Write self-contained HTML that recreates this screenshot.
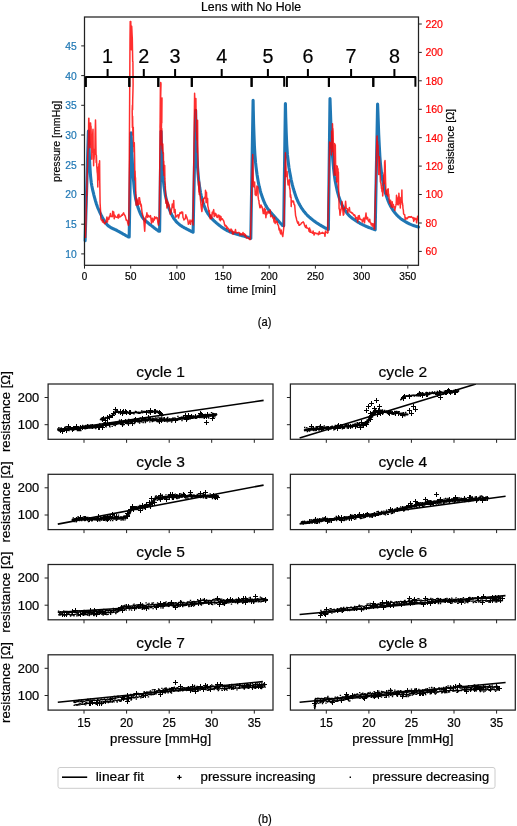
<!DOCTYPE html>
<html><head><meta charset="utf-8"><style>
html,body{margin:0;padding:0;background:#fff;width:517px;height:826px;overflow:hidden;}
svg{display:block;will-change:transform;font-family:"Liberation Sans", sans-serif;}
</style></head><body>
<svg width="517" height="826" viewBox="0 0 517 826" font-family='"Liberation Sans", sans-serif'><rect x="84.5" y="17.0" width="334.0" height="248.3" fill="none" stroke="#222" stroke-width="1.25"/>
<path d="M85.1 240.6 L88.4 131.1 L88.7 139.6 L89.2 151.9 L89.8 164.9 L90.5 175.5 L90.9 179.4 L91.3 182.7 L91.8 185.7 L92.3 188.3 L92.8 190.7 L93.4 192.9 L93.9 195.1 L94.5 197.3 L95 199.1 L95.4 200.7 L95.9 202.2 L96.3 203.7 L96.8 205.1 L97.3 206.5 L97.8 207.8 L98.4 209.1 L99 210.4 L99.6 211.8 L100 212.7 L100.5 213.7 L100.9 214.6 L101.4 215.6 L101.9 216.5 L102.4 217.5 L102.9 218.4 L103.4 219.3 L103.9 220.2 L104.5 221.1 L105 222 L105.6 222.8 L106.1 223.5 L106.7 224.2 L107.3 224.9 L107.8 225.4 L108.2 225.8 L108.7 226.2 L109.2 226.5 L109.7 226.9 L110.2 227.2 L110.7 227.5 L111.2 227.8 L111.7 228 L112.2 228.3 L112.7 228.5 L113.2 228.8 L113.8 229 L114.3 229.2 L114.8 229.5 L115.4 229.7 L115.9 230 L116.4 230.2 L117 230.5 L117.5 230.8 L118 231.1 L118.6 231.4 L119.1 231.7 L119.7 232 L120.3 232.4 L120.9 232.7 L121.5 233 L122.1 233.4 L122.7 233.7 L123.3 234.1 L123.9 234.4 L124.5 234.7 L125 235 L125.5 235.3 L126.1 235.6 L126.5 235.9 L127 236.1 L127.4 236.3 L127.8 236.6 L128.1 236.7 L128.4 236.9 L129.2 236.9 L131 132.8 L131.5 143.8 L132.1 157.2 L132.6 167.1 L133.2 176.1 L133.7 182.2 L134.2 188.1 L134.8 193.5 L135.3 196.4 L135.7 199 L136.3 201.4 L136.9 203.8 L137.6 206.1 L138 207.4 L138.5 208.7 L139 210.1 L139.5 211.4 L140 212.6 L140.5 213.8 L141.1 215 L141.7 216.1 L142.3 217.1 L142.8 217.8 L143.2 218.4 L143.7 219 L144.1 219.5 L144.6 220 L145.1 220.4 L145.6 220.9 L146.1 221.4 L146.7 221.8 L147.3 222.3 L147.9 222.8 L148.6 223.4 L149 223.8 L149.5 224.2 L150 224.6 L150.6 225 L151.1 225.4 L151.7 225.9 L152.3 226.4 L152.9 226.8 L153.5 227.3 L154.1 227.7 L154.7 228.2 L155.3 228.6 L155.9 229.1 L156.4 229.5 L157 229.8 L157.4 230.2 L157.9 230.5 L158.3 230.8 L158.6 231.1 L158.9 231.3 L159.6 231.3 L161.1 131.3 L161.4 143.1 L161.9 157.2 L162.4 167.2 L163 176.1 L163.4 180.7 L163.9 185.2 L164.5 189.5 L165.1 193.5 L165.5 195.9 L166 198.1 L166.5 200.2 L167 202.2 L167.6 204.1 L168.2 206.1 L168.6 207.4 L169.1 208.7 L169.6 210 L170.1 211.3 L170.6 212.5 L171.2 213.7 L171.8 214.9 L172.4 216 L173 217.1 L173.4 217.8 L173.8 218.4 L174.3 219 L174.7 219.6 L175.1 220.2 L175.6 220.7 L176 221.3 L176.5 221.8 L177 222.4 L177.5 222.9 L178.1 223.4 L178.7 223.9 L179.3 224.5 L180 225 L180.4 225.3 L180.9 225.6 L181.3 225.9 L181.8 226.2 L182.4 226.6 L182.9 226.9 L183.5 227.2 L184.1 227.6 L184.6 227.9 L185.2 228.2 L185.8 228.5 L186.4 228.8 L187 229.1 L187.6 229.5 L188.2 229.7 L188.8 230 L189.3 230.3 L189.8 230.6 L190.3 230.8 L190.8 231.1 L191.2 231.3 L191.6 231.5 L192 231.7 L192.3 231.8 L192.6 232 L193.1 232.2 L195.6 110.2 L195.9 124.7 L196.4 142.4 L196.9 156.1 L197.6 167.8 L198.1 174.2 L198.6 179.6 L199.3 184.7 L199.7 187.6 L200.2 190.4 L200.6 193 L201.2 195.6 L201.9 198.3 L202.3 199.7 L202.7 201.1 L203.1 202.5 L203.6 203.9 L204 205.3 L204.5 206.7 L205.1 208.1 L205.6 209.4 L206.2 210.7 L206.9 211.9 L207.3 212.6 L207.7 213.3 L208.1 213.9 L208.6 214.5 L209 215.1 L209.4 215.8 L209.9 216.3 L210.4 216.9 L210.9 217.5 L211.4 218.1 L211.9 218.6 L212.4 219.2 L213 219.7 L213.5 220.3 L214.1 220.9 L214.8 221.4 L215.4 222 L215.8 222.4 L216.2 222.7 L216.6 223.1 L217.1 223.5 L217.5 223.8 L217.9 224.2 L218.4 224.6 L218.8 224.9 L219.3 225.3 L219.7 225.7 L220.2 226 L220.7 226.4 L221.2 226.8 L221.7 227.1 L222.2 227.5 L222.7 227.8 L223.2 228.2 L223.7 228.5 L224.3 228.9 L224.8 229.2 L225.4 229.5 L226 229.9 L226.5 230.2 L227.1 230.5 L227.7 230.8 L228.4 231.1 L229 231.4 L229.4 231.6 L229.9 231.8 L230.3 232 L230.8 232.2 L231.3 232.3 L231.8 232.5 L232.3 232.7 L232.8 232.9 L233.4 233.1 L233.9 233.3 L234.5 233.5 L235.1 233.6 L235.6 233.8 L236.2 234 L236.8 234.2 L237.4 234.3 L238 234.5 L238.6 234.7 L239.2 234.9 L239.8 235 L240.3 235.2 L240.9 235.3 L241.5 235.5 L242.1 235.7 L242.6 235.8 L243.2 236 L243.7 236.1 L244.3 236.3 L244.8 236.4 L245.3 236.5 L245.8 236.7 L246.3 236.8 L246.8 236.9 L247.2 237 L247.6 237.1 L248 237.2 L248.4 237.4 L248.8 237.5 L249.1 237.5 L249.4 237.6 L249.7 237.7 L250 237.8 L250.8 238.4 L253.1 100.2 L253.3 110.7 L253.6 123.9 L254 135.3 L254.4 145.9 L254.9 154.6 L255.6 162.9 L256 166.6 L256.5 170.5 L257 174.3 L257.6 178.1 L258.2 181.5 L258.7 184.1 L259.2 186.5 L259.8 188.7 L260.3 190.9 L260.9 193 L261.6 195.1 L262 196.4 L262.5 197.6 L262.9 198.9 L263.4 200.1 L263.9 201.3 L264.4 202.5 L264.9 203.7 L265.5 204.8 L266 205.9 L266.6 206.9 L267.1 207.7 L267.5 208.4 L268 209.1 L268.5 209.7 L269 210.3 L269.5 210.9 L270 211.6 L270.5 212.2 L271.1 212.8 L271.6 213.4 L272.2 214 L272.8 214.7 L273.4 215.4 L273.9 215.9 L274.4 216.5 L274.9 217.1 L275.5 217.7 L276.1 218.4 L276.7 219.1 L277.3 219.7 L277.9 220.4 L278.5 221 L279.1 221.7 L279.6 222.3 L280.2 222.9 L280.7 223.5 L281.2 224 L281.7 224.5 L282.1 224.9 L282.4 225.3 L282.7 225.6 L283.7 225.8 L285.4 103.6 L285.7 116.6 L286.2 132.4 L286.7 144.1 L287.4 154.4 L287.9 159 L288.4 163.3 L288.9 167.3 L289.6 171.4 L290.1 174.1 L290.6 176.8 L291.1 179.5 L291.7 182.1 L292.3 184.7 L293 187.3 L293.4 188.8 L293.9 190.3 L294.3 191.8 L294.8 193.3 L295.3 194.8 L295.8 196.3 L296.3 197.7 L296.9 199.1 L297.5 200.5 L298.1 201.8 L298.5 202.7 L299 203.5 L299.4 204.4 L299.9 205.2 L300.4 206 L300.8 206.8 L301.3 207.6 L301.8 208.4 L302.4 209.2 L302.9 209.9 L303.4 210.7 L304 211.4 L304.5 212.1 L305.1 212.8 L305.7 213.5 L306.1 214 L306.6 214.5 L307.1 215 L307.5 215.5 L308 215.9 L308.5 216.4 L309 216.9 L309.5 217.3 L310 217.7 L310.5 218.2 L311 218.6 L311.6 219 L312.1 219.4 L312.6 219.9 L313.1 220.3 L313.7 220.7 L314.2 221.1 L314.8 221.5 L315.3 221.9 L315.9 222.3 L316.4 222.6 L316.9 223 L317.4 223.3 L318 223.7 L318.5 224 L319.1 224.4 L319.7 224.8 L320.3 225.1 L320.9 225.5 L321.5 225.8 L322.1 226.2 L322.6 226.5 L323.2 226.8 L323.8 227.2 L324.3 227.5 L324.9 227.8 L325.4 228.1 L325.9 228.3 L326.3 228.6 L326.7 228.8 L327.1 229 L327.5 229.3 L327.8 229.4 L328.1 229.6 L328.4 229.4 L330 98.6 L330.4 110.3 L330.9 125 L331.4 137.2 L332 148.6 L332.5 155.7 L333 162.3 L333.6 168.6 L334.1 173 L334.6 177 L335.2 181 L336 185 L336.4 186.8 L336.8 188.7 L337.2 190.6 L337.7 192.5 L338.2 194.4 L338.7 196.2 L339.3 198 L339.9 199.7 L340.5 201.4 L340.9 202.4 L341.4 203.5 L341.8 204.5 L342.3 205.5 L342.8 206.4 L343.3 207.4 L343.9 208.3 L344.4 209.2 L344.9 210.1 L345.5 211 L346.1 211.8 L346.6 212.6 L347.2 213.4 L347.8 214.1 L348.3 214.6 L348.7 215.2 L349.2 215.7 L349.7 216.1 L350.2 216.6 L350.7 217 L351.2 217.5 L351.8 217.9 L352.3 218.3 L352.8 218.6 L353.3 219 L353.9 219.4 L354.4 219.7 L354.9 220.1 L355.4 220.4 L355.9 220.7 L356.4 221.1 L356.9 221.4 L357.4 221.8 L358 222.1 L358.5 222.4 L359 222.7 L359.5 223 L360 223.3 L360.5 223.6 L361 223.9 L361.5 224.1 L362 224.4 L362.5 224.6 L363 224.9 L363.5 225.1 L364 225.4 L364.6 225.6 L365.1 225.9 L365.6 226.1 L366.1 226.3 L366.6 226.6 L367.2 226.8 L367.7 227 L368.3 227.3 L368.9 227.5 L369.5 227.7 L370.1 227.9 L370.6 228.1 L371.2 228.3 L371.7 228.5 L372.3 228.7 L372.7 228.9 L373.2 229.1 L373.6 229.2 L374 229.4 L374.3 229.5 L374.6 229.6 L375.2 229.8 L377.6 104.1 L378.1 117.6 L378.7 134 L379.3 146.2 L379.9 156.8 L380.4 163.1 L381 168.7 L381.7 174.4 L382.1 176.9 L382.5 179.5 L383 182.1 L383.5 184.7 L384 187.2 L384.6 189.7 L385.2 192 L385.6 193.6 L386.1 195.1 L386.6 196.6 L387.1 198 L387.6 199.4 L388.1 200.8 L388.7 202.2 L389.2 203.5 L389.9 204.8 L390.5 206 L390.9 206.8 L391.4 207.6 L391.9 208.4 L392.4 209.2 L392.8 209.9 L393.3 210.7 L393.9 211.4 L394.4 212.1 L394.9 212.8 L395.5 213.5 L396 214.1 L396.6 214.8 L397.2 215.4 L397.8 216 L398.4 216.6 L398.8 217 L399.3 217.4 L399.8 217.8 L400.2 218.2 L400.7 218.6 L401.2 219 L401.7 219.3 L402.2 219.7 L402.8 220 L403.3 220.4 L403.8 220.7 L404.3 221 L404.8 221.4 L405.4 221.7 L405.9 222 L406.4 222.3 L406.9 222.5 L407.4 222.8 L407.9 223.1 L408.4 223.3 L408.9 223.6 L409.4 223.9 L410 224.1 L410.6 224.4 L411.2 224.6 L411.8 224.9 L412.4 225.1 L412.9 225.3 L413.5 225.5 L414.1 225.7 L414.7 225.9 L415.2 226.1 L415.8 226.2 L416.3 226.4 L416.8 226.5 L417.2 226.7 L417.6 226.8 L418 226.9 L418.3 227 L418.6 227.1" fill="none" stroke="#1f77b4" stroke-width="3.1" stroke-linejoin="round" stroke-linecap="round"/>
<clipPath id="ctop"><rect x="84.5" y="17.0" width="334.0" height="248.3"/></clipPath>
<path d="M85.5 238 L86.5 201.5 L86.7 190.3 L86.9 195.5 L87 181.9 L87.2 174.1 L87.4 167.6 L87.6 166.3 L87.8 153.6 L88.1 148.2 L88.3 142.5 L88.5 134.2 L88.7 118.4 L88.9 118.2 L89.1 131.4 L89.3 132.6 L89.5 130.4 L89.7 133.3 L89.9 147.7 L90.1 132.1 L90.3 123 L90.6 122.9 L90.8 129.9 L91 126.3 L91.2 133.7 L91.4 143.1 L91.6 149.2 L91.8 159.3 L92 144.4 L92.2 145.4 L92.4 140.8 L92.6 137.5 L92.8 132.3 L93 129.2 L93.2 152.7 L93.4 149.2 L93.6 165.8 L93.8 159.1 L94 159.4 L94.2 156.2 L94.3 151.7 L94.5 149.6 L94.7 148.9 L94.9 154.3 L95.1 134.1 L95.3 127.8 L95.5 120 L95.7 128.7 L95.8 138.3 L96 151.5 L96.2 162.5 L96.4 155.3 L96.6 161.1 L96.8 166.7 L97 169.1 L97.2 172.1 L97.4 173.3 L97.6 176.5 L97.8 186.9 L98 167.2 L98.2 180 L98.4 179.4 L98.7 179.2 L98.9 164 L99.1 163.7 L99.4 164.9 L99.6 160.7 L99.8 183.3 L100.1 203 L100.5 209.9 L100.9 218.9 L101.5 220.3 L102 220.2 L102.6 222.1 L103.1 219.8 L103.6 222.4 L104.2 223.1 L104.7 223.6 L105.2 223.1 L105.8 222.2 L106.3 220.4 L106.9 217.1 L107.4 222.1 L107.9 218.6 L108.4 218 L108.9 219.3 L109.4 216.3 L109.9 216.6 L110.4 213.6 L110.8 216.6 L111.3 216.4 L111.8 216.6 L112.3 216.7 L112.7 211.2 L113.2 216.1 L113.7 211.9 L114.2 218.8 L114.8 215.2 L115.3 216.5 L115.8 217 L116.3 217.2 L116.9 217.3 L117.4 217.4 L117.9 215 L118.4 218.1 L118.9 214.3 L119.4 217 L119.9 216.8 L120.4 216.7 L120.9 216.3 L121.4 215.3 L122 214.8 L122.5 215.3 L123 213.7 L123.6 212.8 L124.1 214 L124.7 215.3 L125.2 216 L125.7 217.9 L126.2 220.2 L126.7 219.9 L127.2 220.5 L127.8 223.4 L128.4 225.4 L128.9 223.4 L129.8 73.9 L130 39.2 L130.2 21.5 L130.4 21.5 L130.6 21.6 L130.8 21.6 L131.1 47.7 L131.3 49.7 L131.5 41.8 L131.7 26.2 L131.9 30.2 L132.1 34.7 L132.3 38.5 L132.5 49.8 L132.7 61.8 L132.9 61.6 L133.1 84.1 L132.9 92.8 L132.7 99.8 L132.6 109.7 L132.4 105.3 L132.2 111.3 L132.4 127.6 L132.6 116.3 L132.8 129 L132.9 134.3 L133.1 135.4 L133.3 127.2 L133.5 140.9 L133.7 147 L133.9 146.8 L134.1 151.9 L134.3 142.8 L134.5 151.7 L134.7 163.4 L134.9 179.9 L135.1 170.9 L135.3 178.5 L135.5 177.7 L135.7 189.5 L135.9 199.6 L136.1 205.3 L136.3 198.3 L136.5 198.4 L136.7 199 L136.9 200.1 L137.1 202.8 L137.3 200.3 L137.5 202.1 L137.7 204.9 L137.9 202 L138.1 203.9 L138.3 200.1 L138.5 204.4 L138.7 203.8 L138.9 204.3 L138.9 197.7 L139.1 199.1 L139.3 198.4 L139.5 197.7 L139.7 199.6 L139.9 200.5 L140.1 200.8 L140.3 202.5 L140.5 204.5 L140.7 203.5 L140.9 206.3 L141.1 206 L141.3 204.8 L141.5 207.3 L142 211.8 L142.6 214.6 L143.1 216.5 L143.6 217.7 L144.2 225.1 L144.7 231.3 L145.1 223.7 L145.5 220.3 L146 216.3 L146.4 216.9 L146.9 212.8 L147.3 215.3 L147.8 217.3 L148.3 215.3 L148.9 216.2 L149.4 216.4 L149.9 217 L150.5 215.6 L151 219.2 L151.5 223.2 L152 218.4 L152.6 218.2 L153.1 222.1 L153.6 219.8 L154.1 220.3 L154.6 216.8 L155.1 218.7 L155.5 217.9 L156 217.5 L156.5 217.3 L157 218.8 L157.4 218 L157.9 222.9 L158.4 225 L159.3 220.2 L160.4 87 L160.6 82.6 L160.8 82.6 L161 83.9 L160.8 91.8 L160.6 101.6 L160.4 108 L160.2 117.9 L160 127.6 L160.2 124 L160.4 117.2 L160.6 125.6 L160.8 113.2 L161 101.3 L161.2 107.1 L161.4 105.3 L161.6 104.3 L161.8 98.6 L162 97.9 L161.8 123.1 L161.6 121.3 L161.4 128.6 L161.2 144.6 L161.4 142.7 L161.6 145.1 L161.8 128.4 L162 148.9 L162.2 145.3 L162.4 149.8 L162.6 151.2 L162.8 144.1 L163 153.6 L163.2 152.2 L163.4 153.2 L163.6 171 L163.8 161.3 L164 175.4 L164.3 169.7 L164.5 171.2 L164.7 165.5 L164.9 178.9 L165.1 182.2 L165.3 185.6 L165.5 192.7 L165.7 195 L165.9 203.2 L166.1 198 L166.3 199.1 L166.5 199 L166.7 200.1 L166.9 208 L167.1 200.6 L167.3 201.9 L167.6 206.2 L167.8 201.8 L168 203.4 L168.2 203 L168.4 203.2 L168.6 204.9 L168.8 204.8 L169 204.7 L169.4 208.1 L169.9 211.9 L170.3 214.3 L170.8 213.4 L171.4 209.8 L171.9 208.1 L172.3 203.9 L172.8 206.6 L173.2 207.4 L173.7 200.4 L174.2 212.4 L174.7 210.7 L175.1 209.5 L175.6 217.2 L176.1 216.8 L176.6 216 L177.1 215.8 L177.5 215.2 L178 214.8 L178.5 218 L179 215.9 L179.5 214.4 L180.1 212.6 L180.6 213.1 L181.1 212.3 L181.6 212 L182.1 213.5 L182.6 212.1 L183 217.5 L183.5 218.4 L184 219.9 L184.5 219.3 L184.9 219 L185.4 218.4 L185.8 214.8 L186.3 216.1 L186.8 217.3 L187.4 219.4 L187.9 220.3 L188.4 224.3 L189 222.4 L189.5 222.9 L190 220.1 L190.5 224.3 L190.9 222 L191.4 221 L191.9 221.2 L192.5 219.5 L193.1 225 L193.1 217 L194.6 93.3 L194.8 99.1 L195.1 98.4 L195.3 99.4 L195.5 108.1 L195.7 110.5 L195.9 98.6 L196.1 118.5 L196.3 109.6 L196.4 132 L196.6 131.7 L196.8 138.9 L197 140.4 L197.2 139.8 L197.4 152.4 L197.6 120.3 L197.8 146.8 L198 160.9 L198.1 174.8 L198.3 172.6 L198.5 185.2 L198.7 186.2 L198.9 192.2 L199.1 186.6 L199.3 194.6 L199.5 182.1 L199.7 192 L199.9 194 L200.2 196 L200.4 199.2 L200.6 200.6 L200.8 203.1 L201 205 L201.4 208.6 L201.9 211.5 L202.1 209.7 L202.3 204.3 L202.5 207 L202.8 199.6 L203 203.5 L203.2 202.7 L203.4 200.7 L203.6 198.8 L203.8 198.8 L204 198.9 L204.2 198.6 L204.4 197.9 L204.6 198.1 L204.8 197.1 L205.1 197.3 L205.3 198.3 L205.5 190.3 L205.7 196.4 L205.9 196.3 L206.1 202.7 L206.3 198.1 L206.5 192.2 L206.7 197.5 L206.9 199.6 L207 201.9 L207.2 201.8 L207.4 202.6 L207.6 198.5 L207.8 205.8 L208.3 207.9 L208.8 211.6 L209.3 210.4 L209.8 216.5 L210.3 218.8 L210.8 215.1 L211.3 216.6 L211.8 218.4 L212.2 212.3 L212.7 213.7 L213.2 211.3 L213.7 209.6 L214.2 216.6 L214.7 213.7 L215.2 213.3 L215.6 215.4 L216.1 214 L216.6 217 L217.1 216.1 L217.6 217.4 L218.1 214.9 L218.5 215.7 L219 215.3 L219.5 219.7 L220 216 L220.4 220.7 L220.9 216.4 L221.4 219.6 L221.9 219 L222.4 218.8 L223 220 L223.5 220.4 L224 221.9 L224.6 224.8 L225.1 226.1 L225.6 225.3 L226.1 225.6 L226.6 228.7 L227.1 226.9 L227.6 227.7 L228 228.3 L228.5 228.9 L229 229.4 L229.5 231.7 L230 230.1 L230.5 230.4 L231 228.9 L231.5 230.9 L232 230.2 L232.5 234 L233 231.5 L233.5 234.1 L234 232.3 L234.5 231.8 L235 231.9 L235.5 229.5 L236 232.8 L236.5 232.9 L237 232.6 L237.5 232.9 L238 232.6 L238.5 232.4 L239 232.5 L239.5 233.1 L240 235.2 L240.5 233.6 L241 233.7 L241.5 233.9 L242 235 L242.5 234.4 L243 232.5 L243.5 234.8 L244 233.7 L244.5 233.7 L245 236.3 L245.5 234.7 L246 236.2 L246.5 238 L247 237.7 L247.5 237.6 L248 238.1 L248.5 237.9 L249 238.9 L249.5 239.3 L250 239.6 L250.5 238 L252.7 154.4 L252.9 161.3 L253.1 168.8 L253.2 177.4 L253.4 184.6 L253.6 186.4 L253.8 186.2 L254 186.2 L254.2 187 L254.4 185.8 L254.6 182 L254.8 186.3 L255 188.5 L255.2 194.7 L255.4 191.9 L255.5 192.2 L255.7 194.4 L255.9 194.2 L256.1 195.6 L256.3 195.3 L256.5 193.2 L256.7 189.1 L256.9 186.1 L257.1 191.8 L257.3 189.1 L257.5 186.5 L257.7 192.5 L257.9 187.4 L258.1 196.6 L258.3 198 L258.5 199.7 L258.7 200.2 L258.9 200.3 L259.1 203.2 L259.3 204 L259.5 205.2 L259.7 206.4 L259.9 207.7 L260.5 207.5 L261 205 L261.6 206.5 L262.2 207.3 L262.7 209.9 L263.3 213.6 L263.8 212.9 L264.4 208.2 L264.9 214 L265.4 209.6 L265.9 217.8 L266.4 212.5 L266.8 214.4 L267.3 212 L267.8 212.8 L268.3 211.2 L268.8 213 L269.3 212.2 L269.8 212.9 L270.2 210 L270.7 216.8 L271.2 215.7 L271.7 215.3 L272.2 215.8 L272.7 217.9 L273.2 217.7 L273.6 219.1 L274.1 222.1 L274.6 217.3 L275.1 223.5 L275.6 221.1 L276.1 221.4 L276.6 222.3 L277 221.2 L277.5 224.2 L278 224.7 L278.5 225.9 L279.1 229.9 L279.6 228.4 L280.2 232.3 L280.7 233.9 L281.2 230.1 L281.8 233.8 L282.3 235 L282.8 236.5 L284 225.6 L285.4 152.8 L285.6 156.5 L285.8 163.6 L286 167.2 L286.2 176.6 L286.4 176 L286.6 173.2 L286.7 174.1 L286.9 172.1 L287.1 171.5 L287.3 174.8 L287.5 179.3 L287.7 180.3 L287.9 183.5 L288.1 184.9 L288.3 184 L288.5 184.2 L288.7 183.1 L288.9 183.7 L289.1 183.2 L289.3 179.7 L289.5 187.1 L289.7 188.5 L289.9 189.3 L290.1 190.4 L290.3 196.9 L290.5 194.7 L290.7 194.9 L290.9 197.9 L291.1 197.2 L291.2 206.6 L291.4 200.8 L291.6 200.9 L291.8 202.4 L292.4 201.5 L293 200.9 L293.6 201.6 L294.1 204.5 L294.7 205.1 L295.1 210 L295.6 215.6 L296.2 217.7 L296.7 220 L297.3 222 L297.9 223.5 L298.4 221.9 L299 225.3 L299.5 225.3 L300.1 224.6 L300.6 224.3 L301.1 223.7 L301.6 222.9 L302.2 222.5 L302.7 222.5 L303.2 221.8 L303.7 222.6 L304.2 224.1 L304.7 225.7 L305.2 226.8 L305.7 227.4 L306.2 225.3 L306.7 227.9 L307.2 228 L307.6 228.1 L308.1 228.4 L308.6 228.9 L309.1 231.3 L309.6 228 L310 232.3 L310.5 230.1 L311 232.3 L311.6 232.5 L312.1 232.6 L312.6 233.2 L313.1 230.9 L313.6 233.1 L314.1 235.1 L314.6 232.8 L315.2 233.1 L315.7 233.1 L316.2 233.7 L316.7 233.6 L317.2 233.4 L317.8 233.4 L318.3 234.8 L318.8 233.2 L319.3 231.6 L319.8 234 L320.3 233.3 L320.8 233.2 L321.4 233 L321.9 233.3 L322.4 232.3 L322.9 233.2 L323.4 233.3 L324 233 L324.5 233.4 L325 236.3 L325.5 231 L326 232.4 L326.5 232.4 L327.1 232.3 L327.6 233.1 L328.1 232.4 L327.8 230.5 L329.6 142 L329.8 148.6 L330 145.7 L330.2 142.4 L330.4 146.5 L330.7 142.8 L330.9 143.3 L331.1 142.4 L331.3 147 L331.5 155.1 L331.7 130.9 L331.9 142.9 L332.1 151.8 L332.3 137.4 L332.5 123.7 L332.7 132.2 L332.9 128.5 L333.1 131.8 L333.2 136.2 L333.4 151.7 L333.6 144.6 L333.8 154 L334 158.1 L334.2 175.3 L334.4 163.8 L334.6 143.6 L334.7 156.1 L334.9 152 L335.1 157.8 L335.3 144.7 L335.6 163.1 L335.8 175.1 L336 175.2 L336.2 174.9 L336.4 170.6 L336.6 167.7 L336.7 182.1 L336.9 165.8 L337.1 181.1 L337.3 166.6 L337.5 168.7 L337.7 174.7 L338 168.8 L338.2 187.8 L338.4 172 L338.6 188.7 L338.8 194.6 L338.9 194.9 L339.1 208.6 L339.6 209.6 L340 215.3 L340.5 211.8 L341 209.7 L341.5 206.8 L342 201.5 L342.4 205.8 L342.9 211.1 L343.3 215.2 L343.8 214.4 L344.2 208.3 L344.7 208.8 L345.1 207.2 L345.6 201.3 L346.2 207.9 L346.7 208.6 L347.3 208.7 L347.8 212.7 L348.3 209.5 L348.9 210.4 L349.4 207.5 L349.9 211.9 L350.4 212.1 L351 212.5 L351.5 212.3 L352 213.3 L352.5 213 L353 214 L353.6 214.9 L354.1 215.5 L354.6 214.8 L355.1 215.9 L355.6 218.7 L356.1 217.4 L356.6 217.7 L357.2 218.2 L357.7 222 L358.2 216.1 L358.7 219.3 L359.2 215.4 L359.8 218.6 L360.3 219.4 L360.8 219.3 L361.3 219.8 L361.9 219.9 L362.4 222 L362.9 220.9 L363.4 218.4 L363.9 218 L364.5 222.8 L365 218.6 L365.5 217 L366 213 L366.5 218.9 L367.1 218.4 L367.6 217.4 L368.1 220.4 L368.6 221.1 L369.1 221.8 L369.7 219.2 L370.2 222.6 L370.7 222.7 L371.2 224.8 L371.8 223.5 L372.3 226.2 L372.8 223.7 L373.3 223.9 L373.7 225.9 L374.2 228.9 L374.6 229 L374.6 228.9 L376.9 137.1 L377.1 136 L377.3 149.3 L377.5 141.6 L377.6 145.9 L377.8 148 L378 144.9 L378.2 153.7 L378.4 163.6 L378.7 174.4 L378.9 170.2 L379.2 162 L379.4 156.7 L379.6 162.6 L379.8 166.8 L380 173.5 L380.2 175.7 L380.4 181.7 L380.6 182.2 L380.8 183 L381 183.6 L381.1 184.8 L381.3 185.9 L381.5 188.4 L381.7 188.2 L381.9 190.8 L382.1 191.8 L382.3 191.9 L382.5 188.3 L382.7 196 L382.9 194 L383.1 191.5 L383.3 186 L383.4 183.8 L383.6 179.4 L383.8 174.5 L384 174.9 L384.2 172.5 L384.4 183.4 L384.6 161.7 L384.8 173.5 L385 160.4 L385.2 164.6 L385.4 174.6 L385.6 182.3 L385.7 184.4 L385.9 192.1 L386.1 194.5 L386.3 192.5 L386.5 194.2 L386.7 193.4 L387 192.3 L387.2 190.7 L387.4 191.1 L387.6 189.4 L387.8 196 L388 189 L388.2 188.9 L388.4 193.2 L388.6 195.2 L388.8 194.3 L389 196.8 L389.2 199.7 L389.4 200.1 L389.6 203.2 L390.1 202.5 L390.6 200.2 L391.2 207 L391.7 206.1 L392.2 201.7 L392.7 207.5 L393.3 204.5 L393.8 206 L394.4 207.6 L394.9 210.4 L395.1 207.4 L395.3 208.2 L395.5 206.5 L395.7 205.9 L395.9 205.2 L396.1 203.9 L396.3 201.8 L396.5 195.3 L396.7 200.1 L396.9 200.2 L397.1 198.6 L397.3 204 L397.5 204.3 L397.7 198.1 L397.9 200.1 L398.1 205 L398.3 199.4 L398.5 196.6 L398.7 204.1 L398.9 193.2 L399.1 196.3 L399.3 201.1 L399.5 200.7 L399.7 201.5 L399.9 203.2 L400.1 197.6 L400.3 207.9 L400.5 201.3 L400.7 204.5 L400.9 199.9 L401.1 199.6 L401.3 199.3 L401.5 202 L401.7 197.8 L401.9 190 L402.1 200 L402.3 202.8 L402.5 203.1 L402.7 205.5 L402.8 205.2 L403 208.7 L403.2 209.4 L403.4 210.5 L403.6 213.7 L404.1 214.6 L404.7 214.8 L405.2 219.4 L405.8 217.8 L406.3 217.9 L406.8 219 L407.3 218.4 L407.8 217.5 L408.3 216.9 L408.8 217.5 L409.3 216.8 L409.8 216.7 L410.3 217 L410.8 217.3 L411.3 216.6 L411.8 217.2 L412.2 217.4 L412.7 218.1 L413.2 217.6 L413.7 221.3 L414.2 220.1 L414.7 217.9 L415.2 219.2 L415.7 218.6 L416.2 219.3 L416.6 222.8 L417.1 218.9 L417.6 216.3 L418.1 219.4 L418.6 219.2" fill="none" stroke="#ff0000" stroke-opacity="0.82" stroke-width="1.5" stroke-linejoin="round" clip-path="url(#ctop)"/>
<line x1="84.5" y1="17.0" x2="84.5" y2="265.3" stroke="#222" stroke-width="1"/>
<line x1="418.5" y1="17.0" x2="418.5" y2="265.3" stroke="#222" stroke-width="1"/>
<line x1="81.2" y1="253.9" x2="84.5" y2="253.9" stroke="#222" stroke-width="1"/>
<text x="76.8" y="257.8" font-size="10.5" fill="#1f77b4" text-anchor="end" textLength="11.5" lengthAdjust="spacingAndGlyphs" stroke="#1f77b4" stroke-width="0.2" >10</text>
<line x1="81.2" y1="224.2" x2="84.5" y2="224.2" stroke="#222" stroke-width="1"/>
<text x="76.8" y="228.1" font-size="10.5" fill="#1f77b4" text-anchor="end" textLength="11.5" lengthAdjust="spacingAndGlyphs" stroke="#1f77b4" stroke-width="0.2" >15</text>
<line x1="81.2" y1="194.5" x2="84.5" y2="194.5" stroke="#222" stroke-width="1"/>
<text x="76.8" y="198.4" font-size="10.5" fill="#1f77b4" text-anchor="end" textLength="11.5" lengthAdjust="spacingAndGlyphs" stroke="#1f77b4" stroke-width="0.2" >20</text>
<line x1="81.2" y1="164.8" x2="84.5" y2="164.8" stroke="#222" stroke-width="1"/>
<text x="76.8" y="168.7" font-size="10.5" fill="#1f77b4" text-anchor="end" textLength="11.5" lengthAdjust="spacingAndGlyphs" stroke="#1f77b4" stroke-width="0.2" >25</text>
<line x1="81.2" y1="135" x2="84.5" y2="135" stroke="#222" stroke-width="1"/>
<text x="76.8" y="138.9" font-size="10.5" fill="#1f77b4" text-anchor="end" textLength="11.5" lengthAdjust="spacingAndGlyphs" stroke="#1f77b4" stroke-width="0.2" >30</text>
<line x1="81.2" y1="105.3" x2="84.5" y2="105.3" stroke="#222" stroke-width="1"/>
<text x="76.8" y="109.2" font-size="10.5" fill="#1f77b4" text-anchor="end" textLength="11.5" lengthAdjust="spacingAndGlyphs" stroke="#1f77b4" stroke-width="0.2" >35</text>
<line x1="81.2" y1="75.6" x2="84.5" y2="75.6" stroke="#222" stroke-width="1"/>
<text x="76.8" y="79.5" font-size="10.5" fill="#1f77b4" text-anchor="end" textLength="11.5" lengthAdjust="spacingAndGlyphs" stroke="#1f77b4" stroke-width="0.2" >40</text>
<line x1="81.2" y1="45.9" x2="84.5" y2="45.9" stroke="#222" stroke-width="1"/>
<text x="76.8" y="49.8" font-size="10.5" fill="#1f77b4" text-anchor="end" textLength="11.5" lengthAdjust="spacingAndGlyphs" stroke="#1f77b4" stroke-width="0.2" >45</text>
<line x1="418.5" y1="251.4" x2="421.8" y2="251.4" stroke="#222" stroke-width="1"/>
<text x="425.4" y="255.3" font-size="10.8" fill="#ff0000" text-anchor="start" textLength="11.5" lengthAdjust="spacingAndGlyphs" stroke="#ff0000" stroke-width="0.2" >60</text>
<line x1="418.5" y1="223" x2="421.8" y2="223" stroke="#222" stroke-width="1"/>
<text x="425.4" y="226.9" font-size="10.8" fill="#ff0000" text-anchor="start" textLength="11.5" lengthAdjust="spacingAndGlyphs" stroke="#ff0000" stroke-width="0.2" >80</text>
<line x1="418.5" y1="194.5" x2="421.8" y2="194.5" stroke="#222" stroke-width="1"/>
<text x="425.4" y="198.4" font-size="10.8" fill="#ff0000" text-anchor="start" textLength="17.6" lengthAdjust="spacingAndGlyphs" stroke="#ff0000" stroke-width="0.2" >100</text>
<line x1="418.5" y1="166.1" x2="421.8" y2="166.1" stroke="#222" stroke-width="1"/>
<text x="425.4" y="170" font-size="10.8" fill="#ff0000" text-anchor="start" textLength="17.6" lengthAdjust="spacingAndGlyphs" stroke="#ff0000" stroke-width="0.2" >120</text>
<line x1="418.5" y1="137.7" x2="421.8" y2="137.7" stroke="#222" stroke-width="1"/>
<text x="425.4" y="141.6" font-size="10.8" fill="#ff0000" text-anchor="start" textLength="17.6" lengthAdjust="spacingAndGlyphs" stroke="#ff0000" stroke-width="0.2" >140</text>
<line x1="418.5" y1="109.3" x2="421.8" y2="109.3" stroke="#222" stroke-width="1"/>
<text x="425.4" y="113.2" font-size="10.8" fill="#ff0000" text-anchor="start" textLength="17.6" lengthAdjust="spacingAndGlyphs" stroke="#ff0000" stroke-width="0.2" >160</text>
<line x1="418.5" y1="80.8" x2="421.8" y2="80.8" stroke="#222" stroke-width="1"/>
<text x="425.4" y="84.7" font-size="10.8" fill="#ff0000" text-anchor="start" textLength="17.6" lengthAdjust="spacingAndGlyphs" stroke="#ff0000" stroke-width="0.2" >180</text>
<line x1="418.5" y1="52.4" x2="421.8" y2="52.4" stroke="#222" stroke-width="1"/>
<text x="425.4" y="56.3" font-size="10.8" fill="#ff0000" text-anchor="start" textLength="17.6" lengthAdjust="spacingAndGlyphs" stroke="#ff0000" stroke-width="0.2" >200</text>
<line x1="418.5" y1="24" x2="421.8" y2="24" stroke="#222" stroke-width="1"/>
<text x="425.4" y="27.9" font-size="10.8" fill="#ff0000" text-anchor="start" textLength="17.6" lengthAdjust="spacingAndGlyphs" stroke="#ff0000" stroke-width="0.2" >220</text>
<line x1="84.5" y1="265.3" x2="84.5" y2="268.6" stroke="#222" stroke-width="1"/>
<text x="84.5" y="280" font-size="10.5" fill="#000" text-anchor="middle" textLength="5.5" lengthAdjust="spacingAndGlyphs" stroke="#000" stroke-width="0.2" >0</text>
<line x1="130.7" y1="265.3" x2="130.7" y2="268.6" stroke="#222" stroke-width="1"/>
<text x="130.7" y="280" font-size="10.5" fill="#000" text-anchor="middle" textLength="11.5" lengthAdjust="spacingAndGlyphs" stroke="#000" stroke-width="0.2" >50</text>
<line x1="176.9" y1="265.3" x2="176.9" y2="268.6" stroke="#222" stroke-width="1"/>
<text x="176.9" y="280" font-size="10.5" fill="#000" text-anchor="middle" textLength="17" lengthAdjust="spacingAndGlyphs" stroke="#000" stroke-width="0.2" >100</text>
<line x1="223.1" y1="265.3" x2="223.1" y2="268.6" stroke="#222" stroke-width="1"/>
<text x="223.1" y="280" font-size="10.5" fill="#000" text-anchor="middle" textLength="17" lengthAdjust="spacingAndGlyphs" stroke="#000" stroke-width="0.2" >150</text>
<line x1="269.2" y1="265.3" x2="269.2" y2="268.6" stroke="#222" stroke-width="1"/>
<text x="269.2" y="280" font-size="10.5" fill="#000" text-anchor="middle" textLength="17" lengthAdjust="spacingAndGlyphs" stroke="#000" stroke-width="0.2" >200</text>
<line x1="315.4" y1="265.3" x2="315.4" y2="268.6" stroke="#222" stroke-width="1"/>
<text x="315.4" y="280" font-size="10.5" fill="#000" text-anchor="middle" textLength="17" lengthAdjust="spacingAndGlyphs" stroke="#000" stroke-width="0.2" >250</text>
<line x1="361.6" y1="265.3" x2="361.6" y2="268.6" stroke="#222" stroke-width="1"/>
<text x="361.6" y="280" font-size="10.5" fill="#000" text-anchor="middle" textLength="17" lengthAdjust="spacingAndGlyphs" stroke="#000" stroke-width="0.2" >300</text>
<line x1="407.8" y1="265.3" x2="407.8" y2="268.6" stroke="#222" stroke-width="1"/>
<text x="407.8" y="280" font-size="10.5" fill="#000" text-anchor="middle" textLength="17" lengthAdjust="spacingAndGlyphs" stroke="#000" stroke-width="0.2" >350</text>
<text x="251" y="10.8" font-size="12.4" fill="#000" text-anchor="middle" textLength="100" lengthAdjust="spacingAndGlyphs" stroke="#000" stroke-width="0.2" >Lens with No Hole</text>
<text x="251.5" y="293.2" font-size="10.5" fill="#000" text-anchor="middle" textLength="49" lengthAdjust="spacingAndGlyphs" stroke="#000" stroke-width="0.2" >time [min]</text>
<text x="60.3" y="141.4" font-size="10.5" fill="#000" text-anchor="middle" textLength="81" lengthAdjust="spacingAndGlyphs" transform="rotate(-90 60.3 141.4)" stroke="#000" stroke-width="0.2" >pressure [mmHg]</text>
<text x="454.2" y="141.3" font-size="10.5" fill="#000" text-anchor="middle" textLength="64.7" lengthAdjust="spacingAndGlyphs" transform="rotate(-90 454.2 141.3)" stroke="#000" stroke-width="0.2" >resistance [Ω]</text>
<text x="264.6" y="326.3" font-size="12" fill="#000" text-anchor="middle" textLength="13.5" lengthAdjust="spacingAndGlyphs" stroke="#000" stroke-width="0.2" >(a)</text>
<path d="M85.9 87 L85.9 76.9 L129.3 76.9 L129.3 86.7 M107.6 76.9 L107.6 69" fill="none" stroke="#000" stroke-width="2" stroke-linejoin="round"/>
<text x="107.6" y="63.3" font-size="19.5" fill="#000" text-anchor="middle" textLength="11" lengthAdjust="spacingAndGlyphs" stroke="#000" stroke-width="0.2" >1</text>
<path d="M129.3 87 L129.3 76.9 L158.3 76.9 L158.3 86.7 M143.8 76.9 L143.8 69" fill="none" stroke="#000" stroke-width="2" stroke-linejoin="round"/>
<text x="143.8" y="63.3" font-size="19.5" fill="#000" text-anchor="middle" textLength="11" lengthAdjust="spacingAndGlyphs" stroke="#000" stroke-width="0.2" >2</text>
<path d="M158.3 87 L158.3 76.9 L191.8 76.9 L191.8 86.7 M175.1 76.9 L175.1 69" fill="none" stroke="#000" stroke-width="2" stroke-linejoin="round"/>
<text x="175.1" y="63.3" font-size="19.5" fill="#000" text-anchor="middle" textLength="11" lengthAdjust="spacingAndGlyphs" stroke="#000" stroke-width="0.2" >3</text>
<path d="M191.8 87 L191.8 76.9 L251.6 76.9 L251.6 86.7 M221.7 76.9 L221.7 69" fill="none" stroke="#000" stroke-width="2" stroke-linejoin="round"/>
<text x="221.7" y="63.3" font-size="19.5" fill="#000" text-anchor="middle" textLength="11" lengthAdjust="spacingAndGlyphs" stroke="#000" stroke-width="0.2" >4</text>
<path d="M251.6 87 L251.6 76.9 L284.2 76.9 L284.2 86.7 M267.9 76.9 L267.9 69" fill="none" stroke="#000" stroke-width="2" stroke-linejoin="round"/>
<text x="267.9" y="63.3" font-size="19.5" fill="#000" text-anchor="middle" textLength="11" lengthAdjust="spacingAndGlyphs" stroke="#000" stroke-width="0.2" >5</text>
<path d="M286.9 87 L286.9 76.9 L328.9 76.9 L328.9 86.7 M307.9 76.9 L307.9 69" fill="none" stroke="#000" stroke-width="2" stroke-linejoin="round"/>
<text x="307.9" y="63.3" font-size="19.5" fill="#000" text-anchor="middle" textLength="11" lengthAdjust="spacingAndGlyphs" stroke="#000" stroke-width="0.2" >6</text>
<path d="M328.9 87 L328.9 76.9 L373.3 76.9 L373.3 86.7 M351.1 76.9 L351.1 69" fill="none" stroke="#000" stroke-width="2" stroke-linejoin="round"/>
<text x="351.1" y="63.3" font-size="19.5" fill="#000" text-anchor="middle" textLength="11" lengthAdjust="spacingAndGlyphs" stroke="#000" stroke-width="0.2" >7</text>
<path d="M373.3 87 L373.3 76.9 L415.4 76.9 L415.4 86.7 M394.4 76.9 L394.4 69" fill="none" stroke="#000" stroke-width="2" stroke-linejoin="round"/>
<text x="394.4" y="63.3" font-size="19.5" fill="#000" text-anchor="middle" textLength="11" lengthAdjust="spacingAndGlyphs" stroke="#000" stroke-width="0.2" >8</text>
<clipPath id="c1"><rect x="48.1" y="384" width="224.9" height="55.3"/></clipPath><path d="M58.5 429.8 L59.8 430 L61.1 429.3 L62.3 429.7 L63.6 429.3 L64.9 429.3 L66.2 429 L67.4 428.6 L68.7 428.7 L70 428.5 L71.2 428.3 L72.5 428.9 L73.8 428.3 L75 428.4 L76.2 428.8 L77.5 428.6 L78.8 428.6 L80 428.5 L81.2 427.6 L82.5 427.7 L83.8 427.4 L85 428 L86.2 427.8 L87.5 427.3 L88.8 427.2 L90 427.3 L91.2 427.2 L92.5 426.5 L93.8 427 L95 426.3 L96.2 426.4 L97.5 425.8 L98.8 425.5 L100 426.3 L101.2 425.9 L102.5 425.7 L103.8 424.7 L105 424.5 L106.2 424.5 L107.5 424.3 L108.8 424.2 L110 424.1 L111.2 423.6 L112.5 423.7 L113.8 423.8 L115 423.1 L116.2 423.7 L117.5 423.2 L118.8 423.2 L120 422.6 L121.2 422.6 L122.5 422.7 L123.8 422.2 L125 421.6 L126.2 422.4 L127.5 422.1 L128.8 421.4 L130 421 L131.2 421.8 L132.5 421.4 L133.8 420.6 L135 420.7 L136.2 420.4 L137.5 421.1 L138.8 420.3 L140 421 L141.2 420.6 L142.5 419.8 L143.8 420.3 L145 419.9 L146.2 420.1 L147.5 420.1 L148.8 419.4 L150 419 L151.2 420 L152.5 419.5 L153.7 420.1 L154.9 419.8 L156.2 419.9 L157.4 420 L158.6 419.8 L159.9 419.7 L161.1 419.3 L162.4 420 L163.6 419.7 L164.8 419.9 L166.1 420.4 L167.3 419.5 L168.5 420.2 L169.8 419.5 L171 420.2 L172.3 420.2 L173.5 419.4 L174.8 419.6 L176.1 419.8 L177.3 419.3 L178.6 419 L179.9 418.6 L181.1 418.2 L182.4 418.3 L183.7 418.2 L184.9 417.8 L186.2 417.8 L187.5 417.4 L188.7 417.9 L190 417.7 L191.2 417.1 L192.5 417 L193.8 417.1 L195 416.9 L196.2 417.4 L197.5 416.6 L198.8 416.4 L200 416.9 L201.2 416 L202.5 416.3 L203.8 415.9 L205 416.3 L206.2 415.9 L207.4 416 L208.7 415.1 L209.9 415.5 L211.1 415.3 L212.3 415 L213.6 415.1 L214.8 415 L216 414.5" fill="none" stroke="#000" stroke-width="2.8" stroke-linejoin="round" stroke-linecap="round" clip-path="url(#c1)"/><path d="M100.8 419.1 L102 419 L103.2 418.8 L104.4 418.4 L105.6 418.2 L106.8 417.7 L108 417.4 L109.2 417.1 L110.5 416.1 L111.8 415.8 L113 415.2 L113.9 413.9 L114.8 412.6 L115.7 411.8 L117 411.6 L118.4 412 L119.7 411.7 L121 412 L122.3 412.3 L123.7 412.1 L125 412.7 L126.2 412.2 L127.5 412.6 L128.8 412.3 L130 412.8 L131.2 412.5 L132.5 412.7 L133.8 412.5 L135 412.6 L136.2 412.6 L137.5 412.4 L138.8 412.3 L140 412.7 L141.2 412.2 L142.5 412.5 L143.8 411.9 L145 411.8 L146.2 411.6 L147.5 411.9 L148.8 411.9 L150 411.4 L151.3 411.6 L152.6 411.4 L153.8 411.7 L155.1 411.6 L156.4 411.3 L157.7 411.2 L158.8 412.4 L159.8 412.7 L160.9 414 L161.9 414.4 L163 415.3" fill="none" stroke="#000" stroke-width="1.5" stroke-linejoin="round" stroke-linecap="round" clip-path="url(#c1)"/><path d="M57.3 428.9h1.4M58.2 427.6h1.4M58.9 430.9h1.4M59.5 428.8h1.4M60.5 427.9h1.4M62 430.9h1.4M61.6 429.5h1.4M62.5 429.7h1.4M63.7 430.1h1.4M64.5 428h1.4M64.6 426.8h1.4M66.1 428.1h1.4M66 430.6h1.4M67.4 428.1h1.4M67.6 428.3h1.4M68.4 430.6h1.4M68.7 429.2h1.4M70.4 429.8h1.4M71.3 428.7h1.4M71 427.6h1.4M71.7 429.6h1.4M72.3 428.2h1.4M73 430.3h1.4M74.6 428.1h1.4M75.2 428.5h1.4M75.5 428h1.4M76.8 430.5h1.4M77 426.7h1.4M77.8 430.7h1.4M79 430.7h1.4M79.4 429.8h1.4M80.1 430.5h1.4M80.9 427h1.4M81.9 425.5h1.4M82.1 425.8h1.4M82.7 428.3h1.4M83.6 428.2h1.4M83.8 426.1h1.4M85.1 425.7h1.4M85.4 425.5h1.4M86.1 427.5h1.4M86.8 427.8h1.4M87.8 425.1h1.4M89 427.5h1.4M89.6 425.1h1.4M90.3 424.9h1.4M90.6 425.2h1.4M91.5 428.3h1.4M91.6 425.4h1.4M92.3 427.2h1.4M93.3 427.7h1.4M94.8 427.1h1.4M95.1 428.6h1.4M95.3 427.6h1.4M96.8 427.1h1.4M96.7 425.4h1.4M98.4 427.2h1.4M98.9 423.9h1.4M99.5 424.5h1.4M100.4 426.1h1.4M100.4 425.9h1.4M101.7 424.8h1.4M102.2 426.4h1.4M103.4 422.7h1.4M103.2 425.2h1.4M104.7 422.6h1.4M105 423.1h1.4M105.6 426.8h1.4M105.9 423.8h1.4M107.6 425.1h1.4M107.7 424.3h1.4M108.5 423.6h1.4M109.3 426.8h1.4M110.2 423h1.4M110.7 422.8h1.4M111.5 426.4h1.4M111.6 424.1h1.4M113.3 425.2h1.4M113.7 422.9h1.4M114.7 425.5h1.4M115.2 422.4h1.4M116 423.4h1.4M116.3 423.5h1.4M116.6 422.3h1.4M118.5 422.9h1.4M118.3 421.5h1.4M118.9 420.2h1.4M120 422.5h1.4M120.5 420.9h1.4M121.5 424.9h1.4M122.7 422.9h1.4M123 424.9h1.4M123.9 421.9h1.4M123.8 422.1h1.4M124.7 420.8h1.4M125.4 421.4h1.4M126.6 423.8h1.4M126.8 423h1.4M128 419.5h1.4M129 420.8h1.4M129.3 423.5h1.4M130.5 419.9h1.4M131 422.1h1.4M131.7 420.4h1.4M132 421.2h1.4M132.6 420.9h1.4M133.7 423.6h1.4M133.8 419.2h1.4M134.5 422.6h1.4M135.8 421.3h1.4M136.6 421.3h1.4M137.4 419.4h1.4M138.2 422.1h1.4M138.9 423.1h1.4M139 420.6h1.4M139.6 417.8h1.4M140.9 421.8h1.4M142 418.9h1.4M141.7 417.7h1.4M142.5 422.5h1.4M143.2 418.4h1.4M144.8 418.2h1.4M144.7 422.5h1.4M145.9 419h1.4M146.4 418.9h1.4M146.7 420.9h1.4M147.3 420h1.4M149.1 421.9h1.4M149 418.2h1.4M149.9 418.1h1.4M151 420.3h1.4M152 418.1h1.4M151.7 421.5h1.4M152.5 420.9h1.4M153.2 418.7h1.4M154.7 417.8h1.4M155 419.4h1.4M156.1 418.1h1.4M156.1 421.1h1.4M156.6 421.6h1.4M157.5 417.2h1.4M157.8 421.9h1.4M159.3 417.6h1.4M160.3 420.9h1.4M161.1 417.3h1.4M161.6 420.8h1.4M161.6 419.4h1.4M163.1 417.8h1.4M162.9 419.5h1.4M163.6 421.1h1.4M164.2 419.1h1.4M165.9 419.1h1.4M166.7 421.9h1.4M166.5 418.2h1.4M167 417.5h1.4M168.1 420.2h1.4M168.3 421h1.4M169.7 420.2h1.4M170.9 422h1.4M170.9 418.9h1.4M172.3 419.2h1.4M172.3 417.8h1.4M172.5 420.2h1.4M173.5 420.1h1.4M174.2 417.9h1.4M174.7 420.4h1.4M176.1 419.5h1.4M177.2 416.5h1.4M177.8 419.1h1.4M178.6 417.6h1.4M179 418.2h1.4M179.3 418.9h1.4M180.4 417.8h1.4M180.9 417.1h1.4M181.3 420.7h1.4M182.5 418.5h1.4M182.6 416.4h1.4M183.7 418.4h1.4M184.8 416.8h1.4M185 418.8h1.4M186.3 419.9h1.4M186 416h1.4M186.7 417h1.4M187.9 417.4h1.4M189.2 418.6h1.4M189.3 419.1h1.4M189.6 418.4h1.4M190.8 416h1.4M191.3 416.7h1.4M191.8 418.4h1.4M192.7 415.8h1.4M193.1 417.8h1.4M193.9 416.6h1.4M195.2 416.3h1.4M195.6 418h1.4M196.3 417.6h1.4M197 416.1h1.4M198.4 415h1.4M198.8 415.9h1.4M199.1 414.2h1.4M199.9 416.6h1.4M201.2 417.7h1.4M201.9 415.8h1.4M202.6 415.9h1.4M202.9 417.9h1.4M203.9 415.6h1.4M204.4 417.4h1.4M204.6 414.4h1.4M206.1 416.1h1.4M206.8 415.6h1.4M207.8 417.3h1.4M207.5 414.6h1.4M208.1 418h1.4M209.1 414.3h1.4M210.6 415.5h1.4M210.8 412.7h1.4M212.1 416.6h1.4M212.1 413.3h1.4M212.9 414.6h1.4M213.9 414h1.4M214.2 416.8h1.4M99.8 419.6h1.4M100.9 418.2h1.4M101.3 420h1.4M101.7 418.5h1.4M102.6 418.8h1.4M104 418.2h1.4M104 419.2h1.4M105.2 417.5h1.4M106.2 417.9h1.4M106.1 417.6h1.4M107.4 417.6h1.4M107.7 418.3h1.4M108.4 418h1.4M110 416.9h1.4M110.1 415.3h1.4M110.5 416.5h1.4M111.1 415.5h1.4M112.3 413.7h1.4M112.3 414.8h1.4M113 413.5h1.4M113.2 412.3h1.4M113.9 413.7h1.4M114.5 411.1h1.4M115 410.4h1.4M115.3 411.7h1.4M116.3 410.8h1.4M116.8 410.7h1.4M118.3 411.8h1.4M118 413.2h1.4M119.6 412.2h1.4M119.7 412.8h1.4M120.2 411.8h1.4M121.2 413.3h1.4M122.5 412.9h1.4M123 413.7h1.4M123.4 413.3h1.4M124.8 411.1h1.4M124.9 412.2h1.4M126 413h1.4M126.1 412h1.4M127.8 413.3h1.4M127.9 413.3h1.4M128.9 412.9h1.4M129.7 413.3h1.4M130.6 413h1.4M130.3 413.4h1.4M131.9 413.2h1.4M132.5 412.8h1.4M133.3 413.3h1.4M133.3 413.8h1.4M134.8 411.4h1.4M135.4 411.8h1.4M135.4 411.6h1.4M136.1 412.5h1.4M137.4 413.1h1.4M138.2 413.3h1.4M139.1 413.4h1.4M138.8 412.9h1.4M139.8 412.7h1.4M141.1 410.9h1.4M140.9 411.2h1.4M142.1 412.5h1.4M142.7 411.3h1.4M144 412.4h1.4M143.8 411.3h1.4M144.9 412.4h1.4M145.3 412.4h1.4M146.1 411.1h1.4M147 410.9h1.4M148 412.8h1.4M148.6 412.9h1.4M149.9 410.6h1.4M149.7 411.6h1.4M151.2 410.8h1.4M151.1 411.7h1.4M152.4 411.1h1.4M153.6 412h1.4M153.9 412.8h1.4M154.9 411.9h1.4M155.5 412h1.4M156.2 411.1h1.4M156.5 412.5h1.4M157.7 411.8h1.4M158.6 413h1.4M158.2 412.3h1.4M159.5 413.4h1.4M160.2 414h1.4M160.8 413.4h1.4M161 415.8h1.4M162.1 415.4h1.4" stroke="#000" stroke-width="1.3" fill="none" clip-path="url(#c1)"/><path d="M58 430.5h5M60.5 428v5M60 431.5h5M62.5 429v5M62 429.5h5M64.5 427v5M64 430.5h5M66.5 428v5M66 426.5h5M68.5 424v5M70 429.5h5M72.5 427v5M71 428.5h5M73.5 426v5M74 426.5h5M76.5 424v5M75 428.5h5M77.5 426v5M78 427.5h5M80.5 425v5M80 427.5h5M82.5 425v5M85 426.5h5M87.5 424v5M90 426.5h5M92.5 424v5M96 427.5h5M98.5 425v5M97 426.5h5M99.5 424v5M97 427.5h5M99.5 425v5M100 427.5h5M102.5 425v5M103 424.5h5M105.5 422v5M105 423.5h5M107.5 421v5M107 424.5h5M109.5 422v5M107 424.5h5M109.5 422v5M119 421.5h5M121.5 419v5M120 424.5h5M122.5 422v5M123 421.5h5M125.5 419v5M126 423.5h5M128.5 421v5M130 423.5h5M132.5 421v5M132 421.5h5M134.5 419v5M132 420.5h5M134.5 418v5M133 419.5h5M135.5 417v5M140 418.5h5M142.5 416v5M143 419.5h5M145.5 417v5M146 417.5h5M148.5 415v5M157 421.5h5M159.5 419v5M157 420.5h5M159.5 418v5M159 420.5h5M161.5 418v5M159 420.5h5M161.5 418v5M162 419.5h5M164.5 417v5M173 420.5h5M175.5 418v5M183 415.5h5M185.5 413v5M184 419.5h5M186.5 417v5M186 415.5h5M188.5 413v5M189 416.5h5M191.5 414v5M193 416.5h5M195.5 414v5M199 414.5h5M201.5 412v5M202 416.5h5M204.5 414v5M204 416.5h5M206.5 414v5M204 416.5h5M206.5 414v5M205 414.5h5M207.5 412v5M211 415.5h5M213.5 413v5M100 419.5h5M102.5 417v5M101 418.5h5M103.5 416v5M103 420.5h5M105.5 418v5M105 417.5h5M107.5 415v5M107 417.5h5M109.5 415v5M107 416.5h5M109.5 414v5M110 415.5h5M112.5 413v5M111 413.5h5M113.5 411v5M113 412.5h5M115.5 410v5M118 412.5h5M120.5 410v5M120 412.5h5M122.5 410v5M120 413.5h5M122.5 411v5M121 411.5h5M123.5 409v5M123 411.5h5M125.5 409v5M124 412.5h5M126.5 410v5M127 412.5h5M129.5 410v5M128 412.5h5M130.5 410v5M144 412.5h5M146.5 410v5M148 412.5h5M150.5 410v5M152 411.5h5M154.5 409v5M158 413.5h5M160.5 411v5M157 412.5h5M159.5 410v5M113 409.5h5M115.5 407v5M204 422.5h5M206.5 420v5M210 418.5h5M212.5 416v5M198 413.5h5M200.5 411v5M118 411.5h5M120.5 409v5M148 410.5h5M150.5 408v5M153 411.5h5M155.5 409v5" stroke="#000" stroke-width="1" fill="none" clip-path="url(#c1)"/><line x1="58.5" y1="430.2" x2="263.6" y2="400.4" stroke="#000" stroke-width="1.6" clip-path="url(#c1)"/><rect x="48.1" y="384" width="224.9" height="55.3" fill="none" stroke="#222" stroke-width="1.25"/><line x1="84" y1="439.3" x2="84" y2="442.8" stroke="#222" stroke-width="1"/><line x1="126.6" y1="439.3" x2="126.6" y2="442.8" stroke="#222" stroke-width="1"/><line x1="169.2" y1="439.3" x2="169.2" y2="442.8" stroke="#222" stroke-width="1"/><line x1="211.7" y1="439.3" x2="211.7" y2="442.8" stroke="#222" stroke-width="1"/><line x1="254.3" y1="439.3" x2="254.3" y2="442.8" stroke="#222" stroke-width="1"/><line x1="44.6" y1="424.7" x2="48.1" y2="424.7" stroke="#222" stroke-width="1"/><line x1="44.6" y1="397.5" x2="48.1" y2="397.5" stroke="#222" stroke-width="1"/>
<text x="160.6" y="376.7" font-size="15.3" fill="#000" text-anchor="middle" textLength="48.5" lengthAdjust="spacingAndGlyphs" stroke="#000" stroke-width="0.2" >cycle 1</text>
<text x="39.3" y="429" font-size="12" fill="#000" text-anchor="end" textLength="21.5" lengthAdjust="spacingAndGlyphs" stroke="#000" stroke-width="0.2" >100</text>
<text x="39.3" y="401.8" font-size="12" fill="#000" text-anchor="end" textLength="21.5" lengthAdjust="spacingAndGlyphs" stroke="#000" stroke-width="0.2" >200</text>
<text x="10.2" y="411.6" font-size="12" fill="#000" text-anchor="middle" textLength="81" lengthAdjust="spacingAndGlyphs" transform="rotate(-90 10.2 411.6)" stroke="#000" stroke-width="0.2" >resistance [Ω]</text>
<clipPath id="c2"><rect x="290.4" y="384" width="224.9" height="55.3"/></clipPath><path d="M305 430.1 L306.2 429.7 L307.5 429.6 L308.8 429.1 L310 428.9 L311.2 429.2 L312.5 429.4 L313.8 429.3 L315 428.7 L316.2 428.4 L317.5 428.7 L318.8 429 L320 428.2 L321.2 428.6 L322.5 428 L323.8 428 L325 427.7 L326.2 427.8 L327.5 427.8 L328.8 428.3 L330 428.2 L331.2 427.3 L332.5 427.4 L333.8 427.9 L335 427.1 L336.2 427.1 L337.5 427.1 L338.8 426.7 L340 426.8 L341.2 426.8 L342.5 426.6 L343.8 427.1 L345 426.3 L346.2 426.1 L347.5 426.7 L348.8 426.1 L350 426.3 L351.2 426 L352.5 426 L353.8 425.4 L355 425.2 L356.3 425.6 L357.6 425.2 L358.9 425.1 L360.2 425.1 L361.6 425 L362.9 424.4 L364.2 424.3 L365.5 424.7 L366.2 423.3 L367 422 L367.8 421.3 L368.5 419.9 L369.2 419.3 L370 417.5 L370.7 417.2 L371.5 415.7 L372.2 414.4 L372.9 413.8 L373.7 411.9 L374.4 411" fill="none" stroke="#000" stroke-width="2.5" stroke-linejoin="round" stroke-linecap="round" clip-path="url(#c2)"/><path d="M374.4 411.3 L375.7 411.3 L377 411.6 L378.4 411 L379.7 411.3 L381 411.5 L382.4 412.1 L383.7 411.5 L385 411.8 L386.2 412.3 L387.5 412.6 L388.8 412.1 L390 412.5 L391.2 412.8 L392.5 412.9 L393.8 413.1 L395 413.2 L396.3 412.9 L397.5 413.1 L398.8 413.1 L400 413.8 L401.3 413.5 L402.6 413.7 L403.8 414.4 L405.1 414.3 L406.3 414.4 L407.6 414.5" fill="none" stroke="#000" stroke-width="2" stroke-linejoin="round" stroke-linecap="round" clip-path="url(#c2)"/><path d="M401 400 L402 398.9 L403 398.1 L404 396.9 L405 396.1 L406.3 395.9 L407.5 395.8 L408.8 396 L410.1 395.7 L411.3 395.7 L412.6 395.6 L413.9 395.7 L415.1 395.4 L416.4 395.5" fill="none" stroke="#000" stroke-width="0.8" stroke-linejoin="round" stroke-linecap="round" clip-path="url(#c2)"/><path d="M416.4 394.8 L417.6 394.8 L418.9 395.1 L420.1 394.9 L421.3 394.3 L422.6 394.5 L423.8 394.1 L425.1 394.2 L426.3 394.1 L427.5 393.5 L428.8 393.4 L430 393.3 L431.2 393.3 L432.5 393 L433.8 393 L435 393.1 L436.2 393 L437.5 392.7 L438.8 393 L440 393.1 L441.2 392.8 L442.5 392.6 L443.8 392.7 L445 392.5 L446.2 392.1 L447.5 392.2 L448.7 391.8 L449.9 392.1 L451.1 391.6 L452.4 391.6 L453.6 391.9 L454.8 391.6 L456 391.5 L457.3 391.2 L458.5 391" fill="none" stroke="#000" stroke-width="1.8" stroke-linejoin="round" stroke-linecap="round" clip-path="url(#c2)"/><path d="M304 427.5h1.4M305.3 430.4h1.4M306.1 427.6h1.4M306.6 431.7h1.4M307.4 430.7h1.4M308.4 430.5h1.4M308.5 430.8h1.4M308.9 431h1.4M310 430h1.4M310.3 428.4h1.4M311.6 429.4h1.4M312.2 427.9h1.4M313.2 430.6h1.4M313.9 428.9h1.4M314.8 430h1.4M315.2 430.6h1.4M315.5 426.7h1.4M316.8 427.6h1.4M316.8 426.7h1.4M318.4 430.1h1.4M318.8 426.5h1.4M319.1 426.1h1.4M319.6 427.4h1.4M320.8 429.9h1.4M321.6 427.6h1.4M322.2 426.9h1.4M322.5 429.9h1.4M323.6 425.9h1.4M323.7 428.1h1.4M324.5 428.7h1.4M325.8 427.5h1.4M326.5 426.7h1.4M327.8 429.4h1.4M327.7 430.2h1.4M328.1 427.6h1.4M329.6 427.5h1.4M329.6 427.2h1.4M330.4 428.8h1.4M331.4 426.1h1.4M331.8 426.4h1.4M333.1 429.8h1.4M334.1 429.4h1.4M334.6 425.3h1.4M334.4 429.1h1.4M335.9 426.1h1.4M336 427.8h1.4M336.9 425h1.4M337.8 425.2h1.4M338.9 426.9h1.4M339.8 428.4h1.4M340.4 425.1h1.4M340.4 424.6h1.4M341.7 428.9h1.4M342.1 427.8h1.4M343.2 428.3h1.4M343.2 427h1.4M343.7 428.1h1.4M345 424.2h1.4M345.8 424.3h1.4M346.6 428.1h1.4M347.3 424.8h1.4M348.4 425.6h1.4M348.5 426.5h1.4M349.5 425.7h1.4M349.5 425.8h1.4M350.9 426.9h1.4M351.6 426.7h1.4M351.7 427.7h1.4M352.3 424.4h1.4M353.3 425.1h1.4M354.7 426.1h1.4M354.4 423.5h1.4M356.1 423.1h1.4M356.6 427.3h1.4M357.6 424h1.4M358.1 423.2h1.4M358.8 423.5h1.4M358.8 425h1.4M359.3 426.5h1.4M361 424.8h1.4M361.4 426.1h1.4M362.1 423.6h1.4M362.1 425.7h1.4M362.9 425.2h1.4M364 422.5h1.4M364.9 423.6h1.4M365.6 425.4h1.4M365.2 423.7h1.4M366.3 420.2h1.4M366.7 422.5h1.4M366.8 421h1.4M367.4 422.9h1.4M368 422.3h1.4M368.3 417.5h1.4M368.9 418.8h1.4M368.5 420.7h1.4M369.5 416.8h1.4M369.5 416.5h1.4M370.6 418h1.4M371.1 417.3h1.4M370.6 415h1.4M371.8 416.8h1.4M372 415.5h1.4M372.5 413.7h1.4M372.3 413.1h1.4M372.5 412.4h1.4M373.3 413.7h1.4M373.9 411.4h1.4M374.2 409.4h1.4M374.9 409.8h1.4M375.5 412.2h1.4M376.3 410.9h1.4M377.2 412.2h1.4M377.4 412.7h1.4M379.1 412.6h1.4M379.1 409.7h1.4M379.6 412.2h1.4M381 410.4h1.4M381.7 412h1.4M381.7 409.9h1.4M382.4 413.6h1.4M383.9 410.5h1.4M384 411.5h1.4M384.5 411.1h1.4M385.5 411.7h1.4M386.1 411h1.4M387 411.8h1.4M387.8 413.8h1.4M389 411.4h1.4M389.6 410.9h1.4M389.6 411.5h1.4M390.3 411h1.4M391.4 414.4h1.4M391.6 411.7h1.4M392.9 414.3h1.4M394 411.4h1.4M394.3 412h1.4M394.7 414.7h1.4M396 411.5h1.4M396.2 412.1h1.4M396.9 411.9h1.4M397.8 412.2h1.4M398.5 411.7h1.4M399.5 413.7h1.4M399.9 414.1h1.4M400.2 414.9h1.4M401.6 415.2h1.4M402.5 412.7h1.4M402.8 415.5h1.4M403 412.9h1.4M404.2 415.9h1.4M405 412.4h1.4M405.2 414.2h1.4M406.7 414.4h1.4M400.1 399.5h1.4M400.2 399.7h1.4M401.2 399.1h1.4M401.4 398.1h1.4M401.9 397.5h1.4M402.9 398.1h1.4M403.2 396.9h1.4M404 397h1.4M404 396.6h1.4M404.5 396.6h1.4M405.5 395.6h1.4M406.9 395.8h1.4M407.6 396.3h1.4M407.9 395.3h1.4M408.8 395.9h1.4M409.8 396.4h1.4M409.6 396h1.4M410.4 395.5h1.4M411.6 395.1h1.4M412.3 395.6h1.4M413.2 394.9h1.4M413.8 395.9h1.4M413.9 396.2h1.4M414.7 395.4h1.4M415.9 395.7h1.4M416.1 395.8h1.4M416.8 395.9h1.4M418.3 396h1.4M418.2 393.1h1.4M419.5 393.8h1.4M419.6 395.2h1.4M421.3 392.8h1.4M422 393.2h1.4M422.2 393.7h1.4M422.8 393.4h1.4M423.7 394.8h1.4M424.6 394.8h1.4M425 392.9h1.4M425.8 392.4h1.4M426.3 394.5h1.4M427.5 394.8h1.4M428.2 394.6h1.4M428.1 394.1h1.4M428.9 392.5h1.4M429.5 393.9h1.4M430.4 393.1h1.4M431.7 391.8h1.4M431.8 392.6h1.4M433.1 393.6h1.4M433.2 392.6h1.4M434 392h1.4M435.3 394.2h1.4M436.3 394.1h1.4M436.2 393.8h1.4M436.7 391.5h1.4M437.5 394.4h1.4M438.5 391.9h1.4M439.6 392.9h1.4M439.5 391.3h1.4M440.7 391.9h1.4M441.1 392.1h1.4M442.4 393.6h1.4M442.8 394h1.4M443.7 391.2h1.4M444.5 391.8h1.4M445.5 391.2h1.4M445.9 391.7h1.4M445.9 391.9h1.4M446.6 391.5h1.4M447.4 390.8h1.4M448.2 390.9h1.4M449.2 391.4h1.4M450.6 390.6h1.4M451 393.1h1.4M451.4 393.2h1.4M451.9 391.5h1.4M453.1 390.3h1.4M453.3 390.6h1.4M454.2 393h1.4M454.7 390.2h1.4M455.5 390.2h1.4M456.8 392.4h1.4M456.5 392h1.4" stroke="#000" stroke-width="1.3" fill="none" clip-path="url(#c2)"/><path d="M309 426.5h5M311.5 424v5M311 428.5h5M313.5 426v5M314 428.5h5M316.5 426v5M318 426.5h5M320.5 424v5M319 429.5h5M321.5 427v5M326 428.5h5M328.5 426v5M335 428.5h5M337.5 426v5M336 425.5h5M338.5 423v5M338 426.5h5M340.5 424v5M340 426.5h5M342.5 424v5M346 426.5h5M348.5 424v5M348 426.5h5M350.5 424v5M353 426.5h5M355.5 424v5M355 424.5h5M357.5 422v5M358 427.5h5M360.5 425v5M359 422.5h5M361.5 420v5M361 425.5h5M363.5 423v5M363 423.5h5M365.5 421v5M363 423.5h5M365.5 421v5M364 424.5h5M366.5 422v5M368 419.5h5M370.5 417v5M369 415.5h5M371.5 413v5M371 412.5h5M373.5 410v5M372 412.5h5M374.5 410v5M373 412.5h5M375.5 410v5M373 410.5h5M375.5 408v5M376 410.5h5M378.5 408v5M378 413.5h5M380.5 411v5M378 412.5h5M380.5 410v5M386 412.5h5M388.5 410v5M387 413.5h5M389.5 411v5M387 413.5h5M389.5 411v5M393 413.5h5M395.5 411v5M396 413.5h5M398.5 411v5M400 415.5h5M402.5 413v5M401 398.5h5M403.5 396v5M401 397.5h5M403.5 395v5M402 396.5h5M404.5 394v5M407 396.5h5M409.5 394v5M417 393.5h5M419.5 391v5M418 394.5h5M420.5 392v5M420 395.5h5M422.5 393v5M420 394.5h5M422.5 392v5M424 394.5h5M426.5 392v5M425 394.5h5M427.5 392v5M435 394.5h5M437.5 392v5M437 392.5h5M439.5 390v5M443 392.5h5M445.5 390v5M444 392.5h5M446.5 390v5M445 391.5h5M447.5 389v5M446 390.5h5M448.5 388v5M447 391.5h5M449.5 389v5M452 392.5h5M454.5 390v5M453 392.5h5M455.5 390v5M364 410.5h5M366.5 408v5M366 406.5h5M368.5 404v5M369 403.5h5M371.5 401v5M372 408.5h5M374.5 406v5M374 400.5h5M376.5 398v5M377 406.5h5M379.5 404v5M380 412.5h5M382.5 410v5M368 413.5h5M370.5 411v5M375 414.5h5M377.5 412v5M407 410.5h5M409.5 408v5M411 406.5h5M413.5 404v5M413 409.5h5M415.5 407v5M409 413.5h5M411.5 411v5M438 397.5h5M440.5 395v5M453 391.5h5M455.5 389v5M448 392.5h5M450.5 390v5" stroke="#000" stroke-width="1" fill="none" clip-path="url(#c2)"/><line x1="299.6" y1="438" x2="475.9" y2="384" stroke="#000" stroke-width="1.6" clip-path="url(#c2)"/><rect x="290.4" y="384" width="224.9" height="55.3" fill="none" stroke="#222" stroke-width="1.25"/><line x1="326.3" y1="439.3" x2="326.3" y2="442.8" stroke="#222" stroke-width="1"/><line x1="368.9" y1="439.3" x2="368.9" y2="442.8" stroke="#222" stroke-width="1"/><line x1="411.4" y1="439.3" x2="411.4" y2="442.8" stroke="#222" stroke-width="1"/><line x1="454" y1="439.3" x2="454" y2="442.8" stroke="#222" stroke-width="1"/><line x1="496.6" y1="439.3" x2="496.6" y2="442.8" stroke="#222" stroke-width="1"/><line x1="286.9" y1="424.7" x2="290.4" y2="424.7" stroke="#222" stroke-width="1"/><line x1="286.9" y1="397.5" x2="290.4" y2="397.5" stroke="#222" stroke-width="1"/>
<text x="402.8" y="376.7" font-size="15.3" fill="#000" text-anchor="middle" textLength="48.5" lengthAdjust="spacingAndGlyphs" stroke="#000" stroke-width="0.2" >cycle 2</text>
<clipPath id="c3"><rect x="48.1" y="474.3" width="224.9" height="55.3"/></clipPath><path d="M72.9 519.9 L74.1 520 L75.3 519.2 L76.5 519.8 L77.7 519.7 L79 519.1 L80.2 519.2 L81.4 519.2 L82.6 519.1 L83.8 519.1 L85 518.8 L86.2 518.8 L87.5 519.5 L88.8 518.9 L90 519.1 L91.2 519.3 L92.5 519.1 L93.8 518.5 L95 519.2 L96.2 519 L97.5 519.2 L98.8 518.8 L100 518.8 L101.2 518.8 L102.5 518.1 L103.8 518.5 L105 518.2 L106.2 518.7 L107.5 517.8 L108.8 518.3 L110 518 L111.2 518.5 L112.5 517.9 L113.8 518.4 L115 518.4 L116.3 518.4 L117.6 517.5 L118.9 518.3 L120.2 518 L121.6 517.9 L122.9 517.8 L124.2 517.1 L125.5 517.9 L126.2 516.6 L127 515.5 L127.7 514.3 L128.4 513.8 L129.1 512.8 L129.9 511.9 L130.6 510.2 L131.3 509.3 L132.5 508.9 L133.8 508.5 L135 508.5 L136.3 507.8 L137.5 508.4 L138.8 507.5 L140 507 L141.2 506.7 L142.5 507.1 L143.7 506.2 L144.9 506.1 L146.2 505.7 L147.4 505.8 L148.7 505.6 L149.9 504.6 L150.7 504 L151.6 503.3 L152.4 501.9 L153.2 501.4 L154 500.2 L154.9 498.8 L155.7 498.4 L157 498 L158.3 497.3 L159.6 497.8 L160.9 497.9 L162.2 497.5 L163.5 497.3 L164.8 497.1 L166.1 497.5 L167.4 497.2 L168.7 496.6 L170 496.6 L171.2 496.6 L172.5 497.2 L173.8 496.8 L175 496.1 L176.2 496.9 L177.5 495.9 L178.8 496.4 L180 496.2 L181.2 496.4 L182.5 496.1 L183.8 495.6 L185 496 L186.2 496.4 L187.5 496.3 L188.8 495.8 L190 495.7 L191.2 496.3 L192.5 496.3 L193.8 495.7 L195 496.4 L196.2 496.5 L197.5 495.9 L198.8 495.9 L200 496.2 L201.3 496.5 L202.5 495.7 L203.8 495.9 L205.1 496 L206.3 496.4 L207.6 495.9 L208.8 496.3 L210.1 496.3 L211.4 496.5 L212.6 496 L213.9 496.9 L215.2 497 L216.4 496.5 L217.7 496.5" fill="none" stroke="#000" stroke-width="2.8" stroke-linejoin="round" stroke-linecap="round" clip-path="url(#c3)"/><path d="M72.6 517.8h1.4M73 520.9h1.4M73.5 521.7h1.4M73.8 519.5h1.4M75.5 521.8h1.4M76.3 519.7h1.4M76.6 518.1h1.4M77.1 519.4h1.4M77.4 516.7h1.4M78.9 520.7h1.4M79 519.4h1.4M80.5 517.7h1.4M81 520.6h1.4M81.7 518.1h1.4M82.7 516.9h1.4M82.8 517.1h1.4M83.5 520h1.4M84.1 520.6h1.4M84.7 517.4h1.4M85.9 518.1h1.4M85.9 517.5h1.4M87.2 517.4h1.4M87.8 521.5h1.4M89.1 518.8h1.4M88.8 520h1.4M89.9 518.2h1.4M90.6 519.9h1.4M91 520.8h1.4M91.6 520.7h1.4M92.7 519.5h1.4M93.5 518.4h1.4M94.4 519.6h1.4M95.6 516.8h1.4M96.2 520.2h1.4M96.7 517.8h1.4M97.2 518.1h1.4M98.3 520.2h1.4M98.4 520.6h1.4M99.3 520.8h1.4M100 517.6h1.4M100.9 520h1.4M101.3 517.8h1.4M102.7 518.6h1.4M102.7 520.1h1.4M103 516.7h1.4M103.8 517.1h1.4M105.3 520.5h1.4M105.8 520.5h1.4M106.4 516.6h1.4M107.6 517.6h1.4M108.4 515.8h1.4M108 519.3h1.4M108.8 516.4h1.4M109.8 520.7h1.4M110.6 516.8h1.4M112 520.7h1.4M111.8 516.4h1.4M113.2 515.7h1.4M113.8 515.6h1.4M114.6 518.4h1.4M115.5 518.5h1.4M115.6 520.3h1.4M116.9 518.2h1.4M116.5 519.5h1.4M117.8 515.2h1.4M118.4 518.7h1.4M119.5 517.3h1.4M120.4 520h1.4M120.4 517h1.4M121.8 519.2h1.4M122.4 520.2h1.4M122.5 519h1.4M123.5 515.8h1.4M124.1 516.3h1.4M124.3 519.8h1.4M124.8 518.3h1.4M126.1 516.8h1.4M126.6 513.6h1.4M126 514h1.4M126.8 515.8h1.4M127.6 514.9h1.4M127.9 512.3h1.4M128.6 515.3h1.4M128.4 512.7h1.4M129.3 511.6h1.4M129.2 513.6h1.4M129.3 512h1.4M129.6 512.6h1.4M130.9 507.6h1.4M131.2 508h1.4M131.5 509.1h1.4M132.7 508.8h1.4M133.8 508h1.4M133.8 506.7h1.4M134.5 506.8h1.4M135.5 506.6h1.4M136.4 509.7h1.4M137.6 506.5h1.4M138 510.3h1.4M138.7 507.8h1.4M139.2 505.4h1.4M140.4 508.3h1.4M140.4 506.9h1.4M142 509.2h1.4M142.2 506.2h1.4M142.6 505.8h1.4M143.9 506.8h1.4M144.1 508.6h1.4M144.5 506.4h1.4M145.5 506h1.4M145.8 504h1.4M147.6 506.4h1.4M148.3 505.9h1.4M148.9 505.9h1.4M149.3 503.7h1.4M149.4 506.7h1.4M150.2 502.1h1.4M150.2 504.9h1.4M151.4 504.8h1.4M151.8 503.1h1.4M151.9 501.8h1.4M153.1 501.3h1.4M152.5 498.7h1.4M153.3 501.7h1.4M153.8 501.6h1.4M154.8 496.3h1.4M155.6 495.9h1.4M155.4 496.1h1.4M156.6 500.3h1.4M157.7 498.5h1.4M157.5 499h1.4M158.4 499.8h1.4M158.9 495.8h1.4M160.4 495.8h1.4M160.8 497.8h1.4M161.5 494.9h1.4M161.8 499.1h1.4M162.4 497.2h1.4M163.4 498.7h1.4M164.5 499h1.4M165 499.4h1.4M165.3 494.8h1.4M165.9 497.8h1.4M166.9 497h1.4M167.6 495.1h1.4M168.4 499h1.4M169.2 495h1.4M169.6 497.4h1.4M170.5 494.6h1.4M171.7 496.7h1.4M171.7 498.8h1.4M172.7 495h1.4M173.3 497.5h1.4M174.2 497.5h1.4M174.6 494.2h1.4M176.3 498.7h1.4M176.4 494.8h1.4M177.2 498h1.4M178.4 498h1.4M178.2 496.2h1.4M179.9 493.9h1.4M180.4 494.2h1.4M180.2 496.6h1.4M181.3 497.2h1.4M182.4 494.9h1.4M182.8 493.5h1.4M184 496.8h1.4M184.2 496.9h1.4M184.8 498h1.4M185.5 498.2h1.4M186.9 496.5h1.4M187.3 498.4h1.4M187.5 496.1h1.4M188.4 495.3h1.4M189.4 494.5h1.4M190 496h1.4M190.9 494.3h1.4M191.2 497.4h1.4M192.5 496.1h1.4M193.4 496.1h1.4M193.3 495.5h1.4M194.7 495.9h1.4M194.7 495.7h1.4M195.5 495.3h1.4M196.7 494.5h1.4M197.5 496.8h1.4M198 497h1.4M198.1 495.3h1.4M199.9 497.6h1.4M199.8 494h1.4M201 496h1.4M201.1 496h1.4M202.6 497.9h1.4M202.8 495.7h1.4M204.1 494.4h1.4M204.8 498h1.4M205.4 498.2h1.4M205.3 497.6h1.4M205.9 498.3h1.4M207 496.7h1.4M207.2 495.7h1.4M207.9 495.6h1.4M209 497.2h1.4M209.5 493.8h1.4M210.8 495.2h1.4M211.8 498.5h1.4M212.1 496.8h1.4M212.2 495.5h1.4M213.6 496.5h1.4M214 498.5h1.4M214.6 498.3h1.4M215.7 495.8h1.4M216.6 496.4h1.4" stroke="#000" stroke-width="1.3" fill="none" clip-path="url(#c3)"/><path d="M74 519.5h5M76.5 517v5M78 517.5h5M80.5 515v5M82 518.5h5M84.5 516v5M83 518.5h5M85.5 516v5M87 519.5h5M89.5 517v5M95 519.5h5M97.5 517v5M96 516.5h5M98.5 514v5M101 518.5h5M103.5 516v5M102 518.5h5M104.5 516v5M105 519.5h5M107.5 517v5M106 518.5h5M108.5 516v5M105 516.5h5M107.5 514v5M108 516.5h5M110.5 514v5M110 514.5h5M112.5 512v5M114 516.5h5M116.5 514v5M125 516.5h5M127.5 514v5M125 513.5h5M127.5 511v5M128 509.5h5M130.5 507v5M131 509.5h5M133.5 507v5M140 506.5h5M142.5 504v5M140 505.5h5M142.5 503v5M142 506.5h5M144.5 504v5M144 504.5h5M146.5 502v5M147 502.5h5M149.5 500v5M149 498.5h5M151.5 496v5M150 503.5h5M152.5 501v5M152 502.5h5M154.5 500v5M158 499.5h5M160.5 497v5M160 497.5h5M162.5 495v5M164 499.5h5M166.5 497v5M167 497.5h5M169.5 495v5M168 495.5h5M170.5 493v5M170 494.5h5M172.5 492v5M170 497.5h5M172.5 495v5M171 497.5h5M173.5 495v5M174 496.5h5M176.5 494v5M177 495.5h5M179.5 493v5M181 494.5h5M183.5 492v5M182 495.5h5M184.5 493v5M182 495.5h5M184.5 493v5M198 493.5h5M200.5 491v5M201 495.5h5M203.5 493v5M211 495.5h5M213.5 493v5M213 497.5h5M215.5 495v5M214 496.5h5M216.5 494v5M130 506.5h5M132.5 504v5M138 510.5h5M140.5 508v5M143 507.5h5M145.5 505v5M148 506.5h5M150.5 504v5M203 492.5h5M205.5 490v5M215 497.5h5M217.5 495v5M188 492.5h5M190.5 490v5M168 494.5h5M170.5 492v5M158 495.5h5M160.5 493v5" stroke="#000" stroke-width="1" fill="none" clip-path="url(#c3)"/><line x1="57.8" y1="524.1" x2="263.6" y2="485.1" stroke="#000" stroke-width="1.6" clip-path="url(#c3)"/><rect x="48.1" y="474.3" width="224.9" height="55.3" fill="none" stroke="#222" stroke-width="1.25"/><line x1="84" y1="529.6" x2="84" y2="533.1" stroke="#222" stroke-width="1"/><line x1="126.6" y1="529.6" x2="126.6" y2="533.1" stroke="#222" stroke-width="1"/><line x1="169.2" y1="529.6" x2="169.2" y2="533.1" stroke="#222" stroke-width="1"/><line x1="211.7" y1="529.6" x2="211.7" y2="533.1" stroke="#222" stroke-width="1"/><line x1="254.3" y1="529.6" x2="254.3" y2="533.1" stroke="#222" stroke-width="1"/><line x1="44.6" y1="515" x2="48.1" y2="515" stroke="#222" stroke-width="1"/><line x1="44.6" y1="487.8" x2="48.1" y2="487.8" stroke="#222" stroke-width="1"/>
<text x="160.6" y="467" font-size="15.3" fill="#000" text-anchor="middle" textLength="48.5" lengthAdjust="spacingAndGlyphs" stroke="#000" stroke-width="0.2" >cycle 3</text>
<text x="39.3" y="519.3" font-size="12" fill="#000" text-anchor="end" textLength="21.5" lengthAdjust="spacingAndGlyphs" stroke="#000" stroke-width="0.2" >100</text>
<text x="39.3" y="492.1" font-size="12" fill="#000" text-anchor="end" textLength="21.5" lengthAdjust="spacingAndGlyphs" stroke="#000" stroke-width="0.2" >200</text>
<text x="10.2" y="501.9" font-size="12" fill="#000" text-anchor="middle" textLength="81" lengthAdjust="spacingAndGlyphs" transform="rotate(-90 10.2 501.9)" stroke="#000" stroke-width="0.2" >resistance [Ω]</text>
<clipPath id="c4"><rect x="290.4" y="474.3" width="224.9" height="55.3"/></clipPath><path d="M302 522.5 L303.2 522.7 L304.4 522.4 L305.6 522.6 L306.8 522.6 L308 522.5 L309.2 522.1 L310.4 521.7 L311.6 522 L312.8 521.1 L314 521.1 L315.2 521.4 L316.4 520.9 L317.6 521.4 L318.8 520.2 L320 520.5 L321.2 520.1 L322.5 519.7 L323.8 519.7 L325 519.6 L326.2 519.7 L327.5 519.7 L328.8 519.6 L330 519.3 L331.2 519.6 L332.5 519.3 L333.8 519.7 L335 518.6 L336.2 518.9 L337.5 518.7 L338.8 518.5 L340 518.9 L341.2 518.1 L342.5 518.7 L343.8 518 L345 517.8 L346.2 518 L347.5 517.8 L348.8 517.4 L350 517 L351.2 517.9 L352.5 517.1 L353.8 516.7 L355 517.2 L356.2 516.9 L357.5 516.6 L358.8 516.4 L360 516.9 L361.3 516.2 L362.5 516.1 L363.8 516.5 L365.1 515.7 L366.4 515.6 L367.6 515.1 L368.9 515.5 L370.2 515.4 L371.4 515 L372.7 514.8 L374 514.4 L375.3 514.8 L376.5 514.3 L377.8 514.6 L379 513.8 L380.3 513.9 L381.5 512.9 L382.7 512.8 L383.9 513.4 L385.2 512.8 L386.4 512.5 L387.6 512.1 L388.9 511.8 L390.1 511.2 L391.3 510.9 L392.5 511.2 L393.8 511 L395 510.2 L396.2 510.4 L397.4 509.5 L398.6 509.7 L399.8 508.9 L401 509 L402.2 508.5 L403.4 508.5 L404.6 507.7 L405.8 507.8 L407 507.6 L408.2 506.8 L409.4 506.7 L410.6 506.8 L411.8 506.4 L413 506.1 L414.2 506.1 L415.4 505.6 L416.6 504.9 L417.9 504.9 L419.1 505.1 L420.3 504.6 L421.5 504.5 L422.7 503.9 L423.9 503.7 L425.1 504 L426.4 503.6 L427.6 503.2 L428.8 502.3 L430 502.6 L431.2 501.9 L432.5 502.7 L433.8 502.6 L435 502.3 L436.2 501.6 L437.5 502.1 L438.8 501.3 L440 501.9 L441.2 501.4 L442.5 500.7 L443.8 501.6 L445 500.9 L446.2 501.2 L447.5 501 L448.8 500.7 L450 500.9 L451.2 500.1 L452.5 500.8 L453.8 500.1 L455 499.7 L456.2 500 L457.5 499.6 L458.8 499.6 L460 500.1 L461.2 499.5 L462.5 499.5 L463.8 499.6 L465 499.5 L466.2 500.1 L467.5 500.1 L468.8 500 L470 500 L471.2 499.3 L472.5 499.6 L473.8 498.9 L475 499.5 L476.2 499.3 L477.5 499.1 L478.8 498.5 L480 498.2 L481.2 499 L482.5 498.5 L483.8 498.4 L485 498.6 L486.2 497.7 L487.5 498" fill="none" stroke="#000" stroke-width="2.8" stroke-linejoin="round" stroke-linecap="round" clip-path="url(#c4)"/><path d="M301.5 522.8h1.4M302 521.3h1.4M302.5 524.1h1.4M303.2 523.7h1.4M303.8 521.1h1.4M304.7 522.6h1.4M305.1 523.7h1.4M306.8 521.5h1.4M306.9 523.4h1.4M307.7 522.2h1.4M308.5 522h1.4M308.9 523.1h1.4M310.3 519.7h1.4M310.8 521.6h1.4M311.5 520.1h1.4M311.5 523.1h1.4M313.2 521.7h1.4M313.7 519.3h1.4M314 523.1h1.4M315.2 522.8h1.4M315.9 523.4h1.4M316 519.4h1.4M317 518.9h1.4M317.5 520.6h1.4M318.5 520.6h1.4M318.7 522.8h1.4M320.1 518.9h1.4M320.5 521.6h1.4M321.5 521.1h1.4M322.1 517.9h1.4M323.1 518.3h1.4M323.9 518h1.4M324.7 517.6h1.4M324.5 518.6h1.4M325.4 518.8h1.4M326.3 521.3h1.4M326.7 518.3h1.4M328.2 522.3h1.4M328 520.9h1.4M329.8 518.9h1.4M329.5 521.8h1.4M330.7 519h1.4M331.8 519.2h1.4M332.6 518.7h1.4M332.9 518.9h1.4M333.3 519.4h1.4M333.8 518.3h1.4M335.6 516.4h1.4M335.9 520.7h1.4M336 517.7h1.4M337.4 517.2h1.4M338.1 519.5h1.4M338.4 516.6h1.4M339 520h1.4M340.1 520.1h1.4M340.2 520.7h1.4M341.3 518.3h1.4M341.7 518.3h1.4M343.4 517.5h1.4M343.3 520.5h1.4M344.5 519.8h1.4M345.3 516.8h1.4M345.7 519.8h1.4M346.4 519.2h1.4M346.7 517.8h1.4M348.4 519.7h1.4M348.7 517.1h1.4M349.4 518.6h1.4M349.5 516.4h1.4M350.2 516.7h1.4M351.1 515.1h1.4M352.2 515.3h1.4M352.8 515.8h1.4M354 514.7h1.4M353.8 519.3h1.4M355.1 518.8h1.4M356 515.7h1.4M356.1 516.5h1.4M357.3 515.7h1.4M358 514.5h1.4M358.6 515.1h1.4M359.3 517.7h1.4M359.9 518.5h1.4M361.3 518.4h1.4M362 514.9h1.4M362.3 514.6h1.4M363 517.7h1.4M363.1 517.9h1.4M364.2 517h1.4M364.5 515.6h1.4M365.9 513.3h1.4M366.3 516.6h1.4M367.3 515h1.4M367.9 513.7h1.4M369.1 516.8h1.4M369.2 517h1.4M370.3 516.3h1.4M371.1 517h1.4M371.7 514.8h1.4M372 516.4h1.4M373.2 515.6h1.4M373.6 513.1h1.4M373.8 512.7h1.4M374.6 516.3h1.4M376.1 513.3h1.4M376.3 511.7h1.4M377 511.6h1.4M377.6 511.4h1.4M378.2 512.6h1.4M379.2 512.4h1.4M380.4 512.9h1.4M381 511.5h1.4M380.7 514.4h1.4M382.2 513.4h1.4M382.2 513.2h1.4M383.2 511.2h1.4M384.1 514.2h1.4M384.8 514.8h1.4M385.4 511.5h1.4M385.9 510.2h1.4M387 514.4h1.4M387.6 514.3h1.4M388 511.6h1.4M388.6 509.6h1.4M389.9 510.2h1.4M390.6 509.4h1.4M390.7 513.6h1.4M391.5 512.6h1.4M391.8 513.4h1.4M392.9 510.3h1.4M393.5 512.5h1.4M394.4 509.1h1.4M395 509.8h1.4M395.7 509.2h1.4M397 508.4h1.4M396.5 507.7h1.4M398.2 510.7h1.4M398.9 509.9h1.4M398.6 508.7h1.4M400 506.8h1.4M400.4 508.9h1.4M400.7 510h1.4M402 506.6h1.4M403.1 511h1.4M402.8 510.2h1.4M403.7 510.3h1.4M405.2 506.6h1.4M405.2 506.7h1.4M406.2 506.7h1.4M407.3 507.7h1.4M407.5 509.8h1.4M408.7 507.7h1.4M409 507h1.4M410.1 504.1h1.4M410.7 504.2h1.4M410.4 507.1h1.4M411.3 505.5h1.4M412.5 506.2h1.4M412.8 506.3h1.4M414.1 508.1h1.4M414.4 505h1.4M415.5 503.7h1.4M416.2 507.6h1.4M416.5 507.4h1.4M417.8 502.7h1.4M417.6 502.9h1.4M418.9 505.1h1.4M419.4 502.7h1.4M420.5 502.9h1.4M421.2 502.8h1.4M421.8 505.5h1.4M422.6 506.5h1.4M423.3 506h1.4M423.9 504.6h1.4M424.4 502.3h1.4M425.1 501.4h1.4M426.2 501.9h1.4M426.7 501.1h1.4M427.5 501.9h1.4M428.2 502.6h1.4M428.2 500.6h1.4M429.8 500.7h1.4M429.5 501.1h1.4M431.2 501.9h1.4M430.9 501.4h1.4M432.5 503.3h1.4M432.9 503.2h1.4M433.3 500.9h1.4M434 501.1h1.4M435.5 502.7h1.4M435.6 504.1h1.4M436.4 502.1h1.4M436.9 500.4h1.4M437.8 504.2h1.4M438.4 503.4h1.4M439.2 499.5h1.4M440.3 503.7h1.4M440.5 501.4h1.4M441.4 501.1h1.4M442.6 503.5h1.4M443.4 499.2h1.4M443.8 503h1.4M444.9 498.5h1.4M445.4 500.3h1.4M445.4 502.2h1.4M446.3 499.2h1.4M447.4 498.5h1.4M447.5 500h1.4M448.7 502.6h1.4M449.5 499.8h1.4M450 500.9h1.4M451.3 500h1.4M451.3 498.7h1.4M452.3 500.6h1.4M452.6 499.3h1.4M453.5 502.8h1.4M453.9 497.9h1.4M454.7 501.7h1.4M455.8 500.4h1.4M456.6 501.1h1.4M457.7 501.8h1.4M457.4 500.4h1.4M458.3 497.6h1.4M458.7 501.2h1.4M459.7 499.7h1.4M460.4 498.2h1.4M461.4 501h1.4M462.5 500.4h1.4M462.7 500.1h1.4M463.8 497.7h1.4M464 501.6h1.4M465.5 501.2h1.4M465.5 498.3h1.4M466.2 500.8h1.4M467.5 500h1.4M468.5 498.9h1.4M468 501.5h1.4M469.1 498h1.4M470.1 500.8h1.4M470.1 500.8h1.4M471.4 496.7h1.4M472.3 500.7h1.4M472.7 500.4h1.4M473.1 499.3h1.4M474.5 497.5h1.4M474.7 496.9h1.4M475.9 499.4h1.4M475.8 500.2h1.4M476.7 500.9h1.4M477.4 500.1h1.4M478.5 497.4h1.4M479.6 496.1h1.4M479.6 497h1.4M481 496h1.4M481 495.9h1.4M481.6 496.9h1.4M482.1 496.7h1.4M483.4 498h1.4M484 499.7h1.4M484.5 500.4h1.4M485.5 498h1.4M485.7 500.1h1.4" stroke="#000" stroke-width="1.3" fill="none" clip-path="url(#c4)"/><path d="M307 521.5h5M309.5 519v5M313 519.5h5M315.5 517v5M315 521.5h5M317.5 519v5M317 520.5h5M319.5 518v5M323 518.5h5M325.5 516v5M325 521.5h5M327.5 519v5M329 520.5h5M331.5 518v5M336 517.5h5M338.5 515v5M339 520.5h5M341.5 518v5M339 517.5h5M341.5 515v5M342 518.5h5M344.5 516v5M347 518.5h5M349.5 516v5M348 516.5h5M350.5 514v5M349 518.5h5M351.5 516v5M349 517.5h5M351.5 515v5M353 516.5h5M355.5 514v5M357 514.5h5M359.5 512v5M361 515.5h5M363.5 513v5M363 515.5h5M365.5 513v5M365 514.5h5M367.5 512v5M370 515.5h5M372.5 513v5M376 513.5h5M378.5 511v5M388 509.5h5M390.5 507v5M390 510.5h5M392.5 508v5M395 509.5h5M397.5 507v5M406 505.5h5M408.5 503v5M414 504.5h5M416.5 502v5M415 503.5h5M417.5 501v5M417 505.5h5M419.5 503v5M420 504.5h5M422.5 502v5M425 502.5h5M427.5 500v5M428 504.5h5M430.5 502v5M431 503.5h5M433.5 501v5M435 501.5h5M437.5 499v5M447 499.5h5M449.5 497v5M452 500.5h5M454.5 498v5M453 497.5h5M455.5 495v5M462 499.5h5M464.5 497v5M462 498.5h5M464.5 496v5M467 497.5h5M469.5 495v5M474 500.5h5M476.5 498v5M474 498.5h5M476.5 496v5M480 500.5h5M482.5 498v5M434 494.5h5M436.5 492v5M408 503.5h5M410.5 501v5M423 499.5h5M425.5 497v5M453 498.5h5M455.5 496v5M468 497.5h5M470.5 495v5M485 498.5h5M487.5 496v5M413 501.5h5M415.5 499v5M438 499.5h5M440.5 497v5" stroke="#000" stroke-width="1" fill="none" clip-path="url(#c4)"/><line x1="299.6" y1="523.9" x2="505.6" y2="496.2" stroke="#000" stroke-width="1.6" clip-path="url(#c4)"/><rect x="290.4" y="474.3" width="224.9" height="55.3" fill="none" stroke="#222" stroke-width="1.25"/><line x1="326.3" y1="529.6" x2="326.3" y2="533.1" stroke="#222" stroke-width="1"/><line x1="368.9" y1="529.6" x2="368.9" y2="533.1" stroke="#222" stroke-width="1"/><line x1="411.4" y1="529.6" x2="411.4" y2="533.1" stroke="#222" stroke-width="1"/><line x1="454" y1="529.6" x2="454" y2="533.1" stroke="#222" stroke-width="1"/><line x1="496.6" y1="529.6" x2="496.6" y2="533.1" stroke="#222" stroke-width="1"/><line x1="286.9" y1="515" x2="290.4" y2="515" stroke="#222" stroke-width="1"/><line x1="286.9" y1="487.8" x2="290.4" y2="487.8" stroke="#222" stroke-width="1"/>
<text x="402.8" y="467" font-size="15.3" fill="#000" text-anchor="middle" textLength="48.5" lengthAdjust="spacingAndGlyphs" stroke="#000" stroke-width="0.2" >cycle 4</text>
<clipPath id="c5"><rect x="48.1" y="564.5" width="224.9" height="55.3"/></clipPath><path d="M58.9 612.1 L60.1 613.2 L61.4 613.1 L62.6 611.9 L63.9 612.8 L65.1 612.1 L66.3 612.5 L67.6 612.9 L68.8 612.2 L70.1 612.4 L71.3 612.6 L72.6 611.9 L73.8 612.4 L75 612.2 L76.3 612.8 L77.5 611.8 L78.8 612.4 L80 611.5 L81.2 611.8 L82.5 611.5 L83.8 611.5 L85 611.9 L86.2 611.4 L87.5 612.1 L88.8 611.1 L90 611.7 L91.2 612 L92.5 611 L93.8 611 L95 611.6 L96.2 611.2 L97.5 611.7 L98.8 610.9 L100 610.9 L101.2 611.5 L102.5 610.6 L103.7 611.3 L104.9 611.1 L106.2 610.1 L107.4 610.4 L108.6 610.8 L109.8 609.7 L111.1 610.5 L112.3 610.3 L113.5 610.2 L114.8 609.9 L116 609.1 L117.2 609.7 L118.4 608 L119.6 608.3 L120.8 607.7 L122 606.6 L123.2 607 L124.4 606.5 L125.6 606.8 L126.8 605.8 L128 606.8 L129.2 606 L130.4 606.4 L131.6 605.9 L132.8 606.2 L134 605.4 L135.2 605.6 L136.4 604.9 L137.6 605.3 L138.8 604.7 L140 605.6 L141.2 605.3 L142.5 604.9 L143.8 605.6 L145 605.5 L146.2 605.4 L147.5 604.2 L148.8 604.9 L150 604.9 L151.2 604.7 L152.5 603.9 L153.8 605 L155 604.3 L156.2 604.4 L157.5 604.6 L158.8 603.9 L160 603.5 L161.2 604.6 L162.5 603.7 L163.8 603.3 L165 603.4 L166.2 604.4 L167.5 604 L168.8 603.2 L170 603.1 L171.2 604 L172.5 603.6 L173.8 603.4 L175 602.8 L176.2 603 L177.5 603.7 L178.8 602.4 L180 602.8 L181.2 602.3 L182.5 603.4 L183.8 602.2 L185 603.2 L186.2 603 L187.5 602.8 L188.8 601.8 L190 602.6 L191.2 602.2 L192.5 602 L193.8 601.4 L195 601.7 L196.2 601.9 L197.5 600.9 L198.8 601.7 L200 600.9 L201.2 600.5 L202.5 600.3 L203.8 600.4 L205 600.5 L206.2 600.4 L207.5 600.8 L208.8 600.3 L210 600.3 L211.2 601 L212.5 600 L213.8 599.7 L215 600.1 L216.2 600.1 L217.5 599.8 L218.8 600.2 L220 599.7 L221.2 600.8 L222.5 600.2 L223.8 600.7 L225 600.4 L226.2 600.4 L227.5 600.4 L228.8 599.8 L230 600.3 L231.2 599.6 L232.5 600 L233.8 600 L235 600.2 L236.2 599.3 L237.5 599.5 L238.8 600.1 L240 600 L241.2 600.2 L242.5 599 L243.7 599.1 L244.9 598.9 L246.1 599.7 L247.4 599.7 L248.6 599.5 L249.8 599.6 L251.1 599.2 L252.3 599.2 L253.5 599.7 L254.7 599.3 L256 599.2 L257.2 599.1 L258.4 598.9 L259.7 599.2 L260.9 598.9 L262.1 598.3 L263.3 598.6 L264.6 598.6 L265.8 598.6" fill="none" stroke="#000" stroke-width="1.3" stroke-linejoin="round" stroke-linecap="round" clip-path="url(#c5)"/><path d="M58.9 614.9 L60.1 615 L61.4 614.7 L62.6 614.7 L63.9 614.8 L65.1 614.7 L66.3 615.4 L67.6 614.2 L68.8 614.1 L70.1 615 L71.3 614.5 L72.6 614.6 L73.8 614.7 L75 614.4 L76.3 614.2 L77.5 613.9 L78.8 615 L80 615 L81.2 614.1 L82.5 614.3 L83.8 614 L85 613.6 L86.2 614.6 L87.5 614.5 L88.8 613.7 L90 613.6 L91.2 614.1 L92.5 614.2 L93.8 613.7 L95 613.5 L96.2 613.2 L97.5 613.9 L98.8 613.9 L100 613.8 L101.2 612.8 L102.5 613.3 L103.7 613.7 L104.9 613.2 L106.2 612.8 L107.4 612.3 L108.6 612 L109.8 612.8 L111.1 611.8 L112.3 612.7 L113.5 612.4 L114.8 612 L116 612.5 L117.2 612 L118.4 611 L119.6 609.8 L120.8 609.8 L122 609.1 L123.2 608.7 L124.4 609.5 L125.6 609.1 L126.8 608.2 L128 608.3 L129.2 608.3 L130.4 608.5 L131.6 608 L132.8 608.1 L134 608.4 L135.2 607.5 L136.4 608.1 L137.6 607.5 L138.8 608.2 L140 608.1 L141.2 607.2 L142.5 607.5 L143.8 606.8 L145 607.1 L146.2 607.3 L147.5 607.3 L148.8 606.8 L150 606.3 L151.2 606.4 L152.5 606.9 L153.8 606.3 L155 606.4 L156.2 606.8 L157.5 607.1 L158.8 606.5 L160 606.1 L161.2 606.5 L162.5 606 L163.8 606.6 L165 605.7 L166.2 605.8 L167.5 605.9 L168.8 606.5 L170 605.4 L171.2 605.4 L172.5 605.2 L173.8 605.3 L175 605.4 L176.2 605.4 L177.5 605.8 L178.8 605.2 L180 605.2 L181.2 605.1 L182.5 605.5 L183.8 605.6 L185 604.9 L186.2 605.4 L187.5 604.5 L188.8 605.4 L190 604.7 L191.2 604.7 L192.5 604.2 L193.8 603.9 L195 603.5 L196.2 604.3 L197.5 603.5 L198.8 603.8 L200 603.3 L201.2 603.2 L202.5 602.6 L203.8 602.4 L205 602.5 L206.2 602.9 L207.5 602.7 L208.8 602 L210 602.9 L211.2 602.6 L212.5 602.1 L213.8 602.4 L215 602.3 L216.2 603.1 L217.5 602.7 L218.8 602.4 L220 602.3 L221.2 602.4 L222.5 602.3 L223.8 602.3 L225 602.9 L226.2 602.8 L227.5 602.7 L228.8 602.9 L230 602.5 L231.2 601.8 L232.5 601.6 L233.8 601.8 L235 601.8 L236.2 602.1 L237.5 602.5 L238.8 602.1 L240 601.9 L241.2 601.6 L242.5 602.5 L243.7 602.2 L244.9 601.6 L246.1 601.1 L247.4 602.3 L248.6 601.3 L249.8 602 L251.1 601 L252.3 601.7 L253.5 601.3 L254.7 601.9 L256 601.1 L257.2 600.8 L258.4 600.9 L259.7 601.6 L260.9 601.8 L262.1 601.3 L263.3 601.3 L264.6 600.7 L265.8 601" fill="none" stroke="#000" stroke-width="1.3" stroke-linejoin="round" stroke-linecap="round" clip-path="url(#c5)"/><path d="M57.9 611.2h1.4M58.4 614.5h1.4M59.2 613.4h1.4M60 611.7h1.4M61.2 613.8h1.4M61.4 613.8h1.4M62.5 615.1h1.4M63.1 610.8h1.4M63.2 612.5h1.4M64.9 611.3h1.4M65.7 614.8h1.4M65.5 614.6h1.4M66.2 611.5h1.4M66.9 612.9h1.4M68.1 613h1.4M68.3 612.5h1.4M69.9 616.2h1.4M70.2 615.3h1.4M70.4 612h1.4M71.3 612.9h1.4M71.8 614.8h1.4M73.3 615.8h1.4M73.2 615.1h1.4M74.2 612.4h1.4M74.9 612.3h1.4M76.1 615.8h1.4M76.7 612.8h1.4M77.5 613.7h1.4M77.6 615.7h1.4M78.4 610.7h1.4M78.7 615.2h1.4M80.1 613.5h1.4M80.8 610.7h1.4M81 610.9h1.4M82.3 615.1h1.4M83.4 610.3h1.4M83.6 614.8h1.4M84.8 614.6h1.4M85 611.6h1.4M86.1 614.1h1.4M86.7 612.8h1.4M87 615.2h1.4M87.8 613.2h1.4M88.6 615.7h1.4M89.7 610.6h1.4M90.3 614.7h1.4M91.3 613.6h1.4M90.9 613.1h1.4M91.9 612.3h1.4M92.8 611.4h1.4M93.4 615.5h1.4M94.6 614.5h1.4M94.8 610.1h1.4M96.3 614.5h1.4M96.1 610.6h1.4M96.9 613.4h1.4M98 611h1.4M98.8 613.6h1.4M99.3 610.9h1.4M100.2 610.2h1.4M101.2 614.3h1.4M101.5 610h1.4M102.5 615h1.4M103.1 609.5h1.4M103.5 614.4h1.4M104.2 609.7h1.4M105.2 613.7h1.4M106.1 614.6h1.4M106.1 610.8h1.4M107.3 614.4h1.4M107.5 614.2h1.4M108.8 610.5h1.4M110 614.1h1.4M109.9 613.2h1.4M110.8 611.7h1.4M111.9 612.1h1.4M111.9 612.3h1.4M112.7 608.4h1.4M114.2 610.7h1.4M115.1 613.5h1.4M115 610.9h1.4M116.2 611.5h1.4M116.5 610.5h1.4M116.9 612.1h1.4M118.5 609.2h1.4M118.7 608.8h1.4M119 610.9h1.4M120.4 606.6h1.4M120.8 607.5h1.4M121.9 606.2h1.4M121.5 606.2h1.4M123.3 606.8h1.4M123.4 605.7h1.4M124.4 606.6h1.4M124.5 605.2h1.4M125.6 610.2h1.4M125.9 608.2h1.4M127 607.3h1.4M127.9 606.9h1.4M128.6 609.8h1.4M129.3 606.2h1.4M130.1 608.7h1.4M130.9 610.2h1.4M131.9 606.7h1.4M132.5 605.1h1.4M133.4 604.2h1.4M133.5 608.4h1.4M134.8 607.8h1.4M134.4 606.9h1.4M135.3 608.9h1.4M137 605.7h1.4M137.2 605h1.4M137.3 604.9h1.4M139 606.4h1.4M139.4 608.2h1.4M139.9 605.9h1.4M141.2 608.8h1.4M141.7 604h1.4M142.4 607h1.4M142.6 608.7h1.4M143 605.1h1.4M143.8 609h1.4M145.4 602.9h1.4M145.3 607.4h1.4M146.8 607.7h1.4M147.6 606h1.4M148.3 603.5h1.4M148 608.8h1.4M149.6 607.7h1.4M150.6 607.5h1.4M151.3 603.1h1.4M151.1 604.6h1.4M152.7 602.9h1.4M152.4 608.7h1.4M153.8 605.7h1.4M154.1 605h1.4M155.3 607.9h1.4M156.1 606.9h1.4M156.3 605.8h1.4M156.9 603h1.4M157.5 606.7h1.4M158.7 603.6h1.4M159.2 603.8h1.4M160.2 607.9h1.4M160.5 605.4h1.4M161.9 605.6h1.4M162.3 606.9h1.4M162.3 608.1h1.4M163.1 602.6h1.4M164.5 602.7h1.4M164.4 603.5h1.4M165.4 601.8h1.4M166.1 603.8h1.4M167 603.7h1.4M167.3 603.1h1.4M168.5 602.9h1.4M169.8 602.3h1.4M170.1 602.3h1.4M170.9 605.7h1.4M171.6 603.8h1.4M172.6 606.8h1.4M172.4 606.2h1.4M174 606.5h1.4M174.8 602.9h1.4M175.2 602.7h1.4M175.2 606.2h1.4M176.2 605.1h1.4M177.2 606.4h1.4M177.5 604.4h1.4M178.4 606.6h1.4M178.8 602.3h1.4M180 601.1h1.4M180.8 601.4h1.4M181.1 604.5h1.4M182 606.7h1.4M182.8 604.1h1.4M184.2 605.5h1.4M184.6 604.7h1.4M185.6 605.4h1.4M185.8 603.3h1.4M186.8 601.9h1.4M187.1 603.2h1.4M188.1 606.6h1.4M188.9 602.1h1.4M189.3 606.2h1.4M189.8 600.4h1.4M190.8 602.1h1.4M191.4 602.3h1.4M192.2 602.4h1.4M192.9 606h1.4M193.4 601.8h1.4M194.3 604.7h1.4M194.9 602h1.4M195.7 603.1h1.4M196.6 603.1h1.4M197 599.6h1.4M197.9 602.9h1.4M198.4 603.2h1.4M199.8 601.3h1.4M200.5 600.3h1.4M200.7 605h1.4M201.3 603.6h1.4M202.5 599.4h1.4M202.7 603.7h1.4M204.1 601.5h1.4M203.9 601.5h1.4M205.5 602h1.4M205.3 601.4h1.4M206 600h1.4M207.4 601.6h1.4M208.3 604.3h1.4M208 603.8h1.4M209.4 601.3h1.4M209.6 602.9h1.4M210.5 603.6h1.4M211.9 604.5h1.4M212.1 600h1.4M213.4 599.2h1.4M214.1 603.9h1.4M213.8 601.2h1.4M215.4 599.5h1.4M216.3 598.5h1.4M216 603.1h1.4M217.7 599.8h1.4M217.5 598.7h1.4M218.4 602.9h1.4M219.3 599h1.4M219.9 600.4h1.4M221 599.1h1.4M222 604.4h1.4M221.7 603.2h1.4M222.8 604.5h1.4M223.1 599.6h1.4M224.4 603.6h1.4M224.7 603.6h1.4M226.2 601.7h1.4M225.8 601.9h1.4M227.5 601.3h1.4M227.4 599.6h1.4M228.6 600.3h1.4M229.4 599.5h1.4M230.4 600.3h1.4M230.8 604.1h1.4M231.1 601.6h1.4M232.1 602.4h1.4M232.6 601.6h1.4M233.5 601.8h1.4M234 601h1.4M234.7 602.6h1.4M235.6 599.4h1.4M236.9 603.6h1.4M236.6 601.7h1.4M237.8 602h1.4M238.9 602h1.4M238.8 599h1.4M239.5 601.6h1.4M241.2 601.1h1.4M241.4 600.8h1.4M242.1 603.4h1.4M242.3 599.7h1.4M244.1 602.3h1.4M244.6 601.2h1.4M245 597.7h1.4M246.2 601.2h1.4M246.1 601.8h1.4M247.6 601.4h1.4M247.4 600.2h1.4M248.4 598.2h1.4M249.6 597.3h1.4M250.6 601.1h1.4M250.3 600.8h1.4M250.9 601.3h1.4M252.7 602h1.4M253 603h1.4M253.1 601.5h1.4M254.3 599.1h1.4M255.3 599.9h1.4M255.7 601.5h1.4M256.1 600h1.4M256.7 598.7h1.4M257.7 601.8h1.4M258.2 600h1.4M259.7 597.2h1.4M260.2 599.9h1.4M260.8 598h1.4M261.1 598.8h1.4M262.3 600h1.4M262.9 599.2h1.4M263.1 598.9h1.4M264.9 600.8h1.4" stroke="#000" stroke-width="1.3" fill="none" clip-path="url(#c5)"/><path d="M60 614.5h5M62.5 612v5M62 614.5h5M64.5 612v5M64 614.5h5M66.5 612v5M70 611.5h5M72.5 609v5M73 610.5h5M75.5 608v5M78 614.5h5M80.5 612v5M81 613.5h5M83.5 611v5M82 612.5h5M84.5 610v5M87 612.5h5M89.5 610v5M88 610.5h5M90.5 608v5M91 613.5h5M93.5 611v5M92 610.5h5M94.5 608v5M94 614.5h5M96.5 612v5M97 612.5h5M99.5 610v5M100 611.5h5M102.5 609v5M103 612.5h5M105.5 610v5M108 612.5h5M110.5 610v5M111 610.5h5M113.5 608v5M116 609.5h5M118.5 607v5M116 609.5h5M118.5 607v5M116 609.5h5M118.5 607v5M119 607.5h5M121.5 605v5M119 608.5h5M121.5 606v5M120 610.5h5M122.5 608v5M124 606.5h5M126.5 604v5M126 606.5h5M128.5 604v5M132 608.5h5M134.5 606v5M136 606.5h5M138.5 604v5M138 604.5h5M140.5 602v5M140 607.5h5M142.5 605v5M144 608.5h5M146.5 606v5M154 607.5h5M156.5 605v5M156 605.5h5M158.5 603v5M158 603.5h5M160.5 601v5M158 604.5h5M160.5 602v5M162 604.5h5M164.5 602v5M166 604.5h5M168.5 602v5M169 602.5h5M171.5 600v5M171 605.5h5M173.5 603v5M173 607.5h5M175.5 605v5M176 604.5h5M178.5 602v5M178 604.5h5M180.5 602v5M189 604.5h5M191.5 602v5M190 603.5h5M192.5 601v5M192 603.5h5M194.5 601v5M196 603.5h5M198.5 601v5M198 602.5h5M200.5 600v5M202 600.5h5M204.5 598v5M206 602.5h5M208.5 600v5M209 602.5h5M211.5 600v5M215 598.5h5M217.5 596v5M217 604.5h5M219.5 602v5M218 601.5h5M220.5 599v5M222 603.5h5M224.5 601v5M222 602.5h5M224.5 600v5M224 601.5h5M226.5 599v5M225 600.5h5M227.5 598v5M230 600.5h5M232.5 598v5M236 600.5h5M238.5 598v5M236 599.5h5M238.5 597v5M241 598.5h5M243.5 596v5M241 600.5h5M243.5 598v5M243 602.5h5M245.5 600v5M248 599.5h5M250.5 597v5M249 601.5h5M251.5 599v5M251 601.5h5M253.5 599v5M253 596.5h5M255.5 594v5M263 599.5h5M265.5 597v5M263 599.5h5M265.5 597v5M228 599.5h5M230.5 597v5M243 598.5h5M245.5 596v5M253 599.5h5M255.5 597v5M263 600.5h5M265.5 598v5M198 600.5h5M200.5 598v5M178 602.5h5M180.5 600v5" stroke="#000" stroke-width="1" fill="none" clip-path="url(#c5)"/><line x1="57.8" y1="612.2" x2="262.9" y2="599.6" stroke="#000" stroke-width="1.6" clip-path="url(#c5)"/><rect x="48.1" y="564.5" width="224.9" height="55.3" fill="none" stroke="#222" stroke-width="1.25"/><line x1="84" y1="619.8" x2="84" y2="623.3" stroke="#222" stroke-width="1"/><line x1="126.6" y1="619.8" x2="126.6" y2="623.3" stroke="#222" stroke-width="1"/><line x1="169.2" y1="619.8" x2="169.2" y2="623.3" stroke="#222" stroke-width="1"/><line x1="211.7" y1="619.8" x2="211.7" y2="623.3" stroke="#222" stroke-width="1"/><line x1="254.3" y1="619.8" x2="254.3" y2="623.3" stroke="#222" stroke-width="1"/><line x1="44.6" y1="605.2" x2="48.1" y2="605.2" stroke="#222" stroke-width="1"/><line x1="44.6" y1="578" x2="48.1" y2="578" stroke="#222" stroke-width="1"/>
<text x="160.6" y="557.2" font-size="15.3" fill="#000" text-anchor="middle" textLength="48.5" lengthAdjust="spacingAndGlyphs" stroke="#000" stroke-width="0.2" >cycle 5</text>
<text x="39.3" y="609.5" font-size="12" fill="#000" text-anchor="end" textLength="21.5" lengthAdjust="spacingAndGlyphs" stroke="#000" stroke-width="0.2" >100</text>
<text x="39.3" y="582.3" font-size="12" fill="#000" text-anchor="end" textLength="21.5" lengthAdjust="spacingAndGlyphs" stroke="#000" stroke-width="0.2" >200</text>
<text x="10.2" y="592.2" font-size="12" fill="#000" text-anchor="middle" textLength="81" lengthAdjust="spacingAndGlyphs" transform="rotate(-90 10.2 592.2)" stroke="#000" stroke-width="0.2" >resistance [Ω]</text>
<clipPath id="c6"><rect x="290.4" y="564.5" width="224.9" height="55.3"/></clipPath><path d="M320.5 612.1 L321.7 611.9 L322.9 611.8 L324.2 611.1 L325.4 611.6 L326.6 611 L327.8 611.1 L329 611 L330.2 610.1 L331.5 610.1 L332.7 609.9 L333.9 609.3 L335.1 610.1 L336.3 609.7 L337.6 609.3 L338.8 609.2 L340 609.4 L341.2 608.2 L342.5 608.4 L343.8 608.7 L345 608.3 L346.2 608.1 L347.5 607.7 L348.8 607.5 L350 607.9 L351.2 607.3 L352.5 607.9 L353.8 607.7 L355 607.6 L356.2 606.6 L357.5 606.7 L358.8 606.1 L360 606.3 L361.2 605.8 L362.5 606.1 L363.8 606.5 L365 606.1 L366.2 605.5 L367.5 605.2 L368.8 605.8 L370 604.6 L371.2 605.4 L372.5 605.3 L373.8 604.2 L375 605.1 L376.2 604.6 L377.5 604.1 L378.8 604 L380 604.1 L381.2 603.8 L382.4 604.1 L383.7 604 L384.9 603.2 L386.1 602.7 L387.3 603.5 L388.5 603.2 L389.7 603.1 L391 602.2 L392.2 602.1 L393.4 603 L394.6 602.2 L395.8 602.2 L397 602.7 L398.3 601.6 L399.5 602 L400.7 601.2 L401.9 601.6 L403.1 601.7 L404.3 600.9 L405.6 601.5 L406.8 601.6 L408 601.3 L409.2 601.2 L410.4 601.3 L411.7 601 L412.9 600.8 L414.1 601 L415.3 601 L416.6 600.7 L417.8 600.7 L419 600 L420.2 600.2 L421.4 600.1 L422.7 600.7 L423.9 600.5 L425.1 599.9 L426.3 600.7 L427.6 599.5 L428.8 599.4 L430 599.7 L431.2 599.4 L432.4 600.4 L433.6 599.7 L434.8 599.7 L436 600.2 L437.2 599.8 L438.4 599.9 L439.6 599.7 L440.8 599.7 L442 600.3 L443.2 599.4 L444.4 599.7 L445.6 599.6 L446.8 599.2 L448 599.2 L449.2 599.6 L450.4 599.9 L451.6 599.5 L452.8 599 L454 600 L455.2 599.1 L456.4 599.9 L457.6 598.9 L458.8 599.6 L460 599 L461.2 599.1 L462.5 599.2 L463.8 599.5 L465 599.1 L466.2 599 L467.5 598.9 L468.8 599 L470 598.7 L471.2 599.4 L472.5 598.4 L473.8 598.3 L475 598.7 L476.2 598.4 L477.5 598.8 L478.8 597.9 L480 598.6 L481.3 598.3 L482.5 598.9 L483.8 598.2 L485 598.4 L486.3 598.2 L487.5 598.5 L488.8 598.2 L490 598.7 L491.3 598.4 L492.6 598.7 L493.8 598.2 L495.1 598.4 L496.3 598.6 L497.6 598.8 L498.8 598.7 L500.1 598.4 L501.3 598 L502.6 598.5" fill="none" stroke="#000" stroke-width="1.2" stroke-linejoin="round" stroke-linecap="round" clip-path="url(#c6)"/><path d="M320.5 613.6 L321.7 613.5 L322.9 613.3 L324.2 613.1 L325.4 613.5 L326.6 613 L327.8 613.4 L329 612.4 L330.2 612.3 L331.5 612 L332.7 611.8 L333.9 612.2 L335.1 611.9 L336.3 611.3 L337.6 611.8 L338.8 611.5 L340 611 L341.2 611.1 L342.5 611 L343.8 610.5 L345 610 L346.2 610.1 L347.5 610.7 L348.8 609.8 L350 610 L351.2 609.2 L352.5 609.8 L353.8 609.8 L355 609.1 L356.2 608.9 L357.5 608.9 L358.8 608.4 L360 608.2 L361.2 608 L362.5 608.5 L363.8 608.1 L365 608.5 L366.2 608.4 L367.5 608.1 L368.8 608 L370 607.7 L371.2 606.6 L372.5 606.6 L373.8 607.4 L375 607.2 L376.2 606.7 L377.5 606.5 L378.8 606.2 L380 606 L381.2 605.5 L382.4 605.9 L383.7 605.4 L384.9 605.1 L386.1 605.9 L387.3 605.4 L388.5 605.6 L389.7 604.8 L391 605 L392.2 604.5 L393.4 605 L394.6 604.2 L395.8 604.6 L397 604.3 L398.3 603.9 L399.5 603.5 L400.7 603.8 L401.9 603.8 L403.1 604 L404.3 603.1 L405.6 603 L406.8 603 L408 603.4 L409.2 602.7 L410.4 603.1 L411.7 602.4 L412.9 602.4 L414.1 603.1 L415.3 602.7 L416.6 602.2 L417.8 602.6 L419 603.1 L420.2 602.4 L421.4 602.5 L422.7 602.3 L423.9 602.4 L425.1 601.8 L426.3 602.7 L427.6 602.3 L428.8 602 L430 601.8 L431.2 601.7 L432.4 602.6 L433.6 602.4 L434.8 601.9 L436 602.1 L437.2 602 L438.4 601.6 L439.6 601.4 L440.8 602.2 L442 601.5 L443.2 601.9 L444.4 601.3 L445.6 601.2 L446.8 601.4 L448 602 L449.2 601.9 L450.4 602.3 L451.6 601.9 L452.8 601.7 L454 601.1 L455.2 602.2 L456.4 601.6 L457.6 602 L458.8 601.1 L460 602 L461.2 601.5 L462.5 601.1 L463.8 601.3 L465 600.8 L466.2 601.4 L467.5 600.9 L468.8 601.4 L470 600.7 L471.2 601.2 L472.5 601.1 L473.8 601.1 L475 601.4 L476.2 600.5 L477.5 600.9 L478.8 600.5 L480 601.1 L481.3 601 L482.5 600.9 L483.8 600.7 L485 600.3 L486.3 601.1 L487.5 601.2 L488.8 601.2 L490 600.4 L491.3 601 L492.6 600.9 L493.8 601 L495.1 601 L496.3 600.6 L497.6 600.5 L498.8 601 L500.1 600.9 L501.3 600.7 L502.6 600.7" fill="none" stroke="#000" stroke-width="1.2" stroke-linejoin="round" stroke-linecap="round" clip-path="url(#c6)"/><path d="M320.2 610.3h1.4M320 614.9h1.4M321.5 613.8h1.4M322 613h1.4M322.6 612.8h1.4M323.2 613.6h1.4M324.5 613.9h1.4M324.5 609.9h1.4M325 613.6h1.4M326 614.1h1.4M326.8 613.2h1.4M327.2 613.9h1.4M328.1 610.1h1.4M329.1 610.8h1.4M329.5 608.7h1.4M330 611.7h1.4M330.6 608.8h1.4M331.2 613.2h1.4M331.8 609.8h1.4M332.6 609.8h1.4M333.7 609.3h1.4M334 610.9h1.4M334.6 610.9h1.4M336.1 611.2h1.4M336.6 608.6h1.4M337.1 609.1h1.4M338.4 610.6h1.4M338.9 608.8h1.4M339.2 609.9h1.4M340.2 608h1.4M340.3 608.7h1.4M342 609h1.4M341.6 612.3h1.4M342.3 611.1h1.4M343 607.3h1.4M343.8 609.2h1.4M345.3 609.2h1.4M346.1 607.3h1.4M346.9 609.5h1.4M346.8 608h1.4M347.5 609.6h1.4M348.9 609.3h1.4M348.8 610.7h1.4M350.2 607.2h1.4M350.6 609.8h1.4M351 607.3h1.4M351.6 609.2h1.4M353.1 607.3h1.4M353.6 609.6h1.4M354 606.4h1.4M355.5 607.2h1.4M356 606.6h1.4M355.9 610.4h1.4M356.7 607.9h1.4M358.1 606.5h1.4M358.7 605.1h1.4M359.8 606.4h1.4M360.4 609.6h1.4M360.4 609.1h1.4M361.4 609.5h1.4M362.8 609.8h1.4M363.2 608h1.4M363.6 607h1.4M364 608.9h1.4M365.3 607.9h1.4M365.8 607.7h1.4M366.4 604.2h1.4M367.5 603.8h1.4M368.2 608.5h1.4M369.1 605.6h1.4M369.8 606.5h1.4M369.5 603.3h1.4M370.3 607.9h1.4M372 607h1.4M371.9 606h1.4M373.1 604.9h1.4M373.9 606.1h1.4M373.8 605.3h1.4M374.6 607h1.4M375.5 605.7h1.4M376.6 604.7h1.4M376.9 607.9h1.4M377.8 604.1h1.4M379 606.2h1.4M379.7 602.7h1.4M380.3 606.5h1.4M380.2 604.7h1.4M381.5 604.2h1.4M382.1 605.2h1.4M382.5 603.3h1.4M383.9 607h1.4M384.8 607.3h1.4M384.4 603h1.4M385 602.9h1.4M386.5 602.3h1.4M386.5 602h1.4M388.1 606.1h1.4M388.2 605.9h1.4M389.6 602.3h1.4M390.1 601.3h1.4M390.7 602.3h1.4M390.9 605.9h1.4M392.1 604.4h1.4M392.9 603.7h1.4M393.3 605h1.4M393.7 603.5h1.4M394.1 603.5h1.4M395.7 601.6h1.4M396.2 603.7h1.4M396.8 604.2h1.4M397.5 604.7h1.4M397.7 601.6h1.4M398.7 602.8h1.4M400.2 604.2h1.4M400.5 605.2h1.4M401.5 604.4h1.4M401.3 604.4h1.4M402.2 602.3h1.4M403.6 604.8h1.4M403.4 601.6h1.4M404.3 600.4h1.4M404.8 603.1h1.4M405.6 603.2h1.4M406 604h1.4M407.8 600.8h1.4M408.2 599.9h1.4M408.9 602.2h1.4M409 602.4h1.4M410.4 603.7h1.4M410.5 600.3h1.4M411.2 604.2h1.4M412 604.5h1.4M412.8 603.5h1.4M413.5 599.1h1.4M414.4 603.2h1.4M415.4 599.7h1.4M415.3 601.4h1.4M416.8 602.8h1.4M416.9 598.9h1.4M418.2 598.7h1.4M419.1 600.7h1.4M419.5 603.9h1.4M420.1 603h1.4M420.2 601.7h1.4M421.3 600.7h1.4M422 602.7h1.4M422.9 603.3h1.4M423.9 602.9h1.4M423.9 603.9h1.4M425.2 600.3h1.4M425.9 602.6h1.4M426.8 599h1.4M427.3 601.7h1.4M428.1 602.4h1.4M428.3 601h1.4M429.5 603.4h1.4M430.1 598.5h1.4M430.9 603.1h1.4M431.8 598.8h1.4M432.7 600h1.4M432.4 599.3h1.4M433.8 603.4h1.4M434.8 600.5h1.4M434.4 600.4h1.4M435.5 601h1.4M435.9 598.6h1.4M437 598.5h1.4M437.7 603.7h1.4M438.1 601.1h1.4M439.6 598.6h1.4M439.8 603.6h1.4M440.9 599.4h1.4M441.5 600.1h1.4M441.7 600.3h1.4M442.8 600.8h1.4M444 602.1h1.4M444.6 599h1.4M444.4 599h1.4M446.2 598.4h1.4M447 601.4h1.4M447.7 600.4h1.4M447.3 602.3h1.4M448.9 598.7h1.4M449.4 601.7h1.4M450.4 603.3h1.4M450.7 600.2h1.4M451 598.2h1.4M451.8 602.9h1.4M453.3 601h1.4M454.1 601.8h1.4M454 601h1.4M455.4 597.9h1.4M455.5 600.1h1.4M457 603.4h1.4M457.7 603.2h1.4M457.9 598.8h1.4M458.6 602h1.4M459.4 601.6h1.4M459.6 600.2h1.4M461.3 599.7h1.4M461.1 598.8h1.4M462.7 597.6h1.4M463 600.2h1.4M463 599.4h1.4M464.1 603.1h1.4M465.4 602h1.4M465.7 600.2h1.4M466 598.6h1.4M467.1 602.7h1.4M467.8 600h1.4M469 597.4h1.4M469.9 597.9h1.4M470.4 599h1.4M470.2 598.4h1.4M471.9 597.6h1.4M472.6 602.6h1.4M472.3 599.7h1.4M473.1 598.3h1.4M474.4 597.6h1.4M474.5 602.2h1.4M475.7 602.3h1.4M476.1 598.2h1.4M477.5 599.8h1.4M478.1 602.2h1.4M478.2 601h1.4M479.7 600.5h1.4M480.1 600.1h1.4M481.1 598.6h1.4M481.9 600.4h1.4M482.3 600.9h1.4M482.5 597.1h1.4M483.5 597.4h1.4M484 598.2h1.4M485.1 601h1.4M485.6 599.2h1.4M486.2 601.1h1.4M486.8 600.8h1.4M487.2 600.6h1.4M488.3 602.4h1.4M489 601h1.4M489.5 601.9h1.4M490.3 598.8h1.4M491.3 598.4h1.4M492.3 600.7h1.4M493.1 596.8h1.4M493.1 599.7h1.4M494.7 601.8h1.4M495.2 600.4h1.4M495.8 602h1.4M496 602h1.4M497.5 601h1.4M497.7 601.2h1.4M498.2 600.2h1.4M498.9 600.6h1.4M499.6 599.7h1.4M500.9 598.3h1.4M501.1 600.5h1.4" stroke="#000" stroke-width="1.3" fill="none" clip-path="url(#c6)"/><path d="M318 615.5h5M320.5 613v5M319 613.5h5M321.5 611v5M322 613.5h5M324.5 611v5M323 614.5h5M325.5 612v5M324 609.5h5M326.5 607v5M335 610.5h5M337.5 608v5M341 609.5h5M343.5 607v5M352 608.5h5M354.5 606v5M359 609.5h5M361.5 607v5M364 607.5h5M366.5 605v5M370 605.5h5M372.5 603v5M371 606.5h5M373.5 604v5M371 603.5h5M373.5 601v5M371 605.5h5M373.5 603v5M373 605.5h5M375.5 603v5M378 604.5h5M380.5 602v5M380 602.5h5M382.5 600v5M381 607.5h5M383.5 605v5M384 602.5h5M386.5 600v5M386 604.5h5M388.5 602v5M386 603.5h5M388.5 601v5M388 605.5h5M390.5 603v5M391 605.5h5M393.5 603v5M399 604.5h5M401.5 602v5M402 602.5h5M404.5 600v5M407 598.5h5M409.5 596v5M408 603.5h5M410.5 601v5M409 602.5h5M411.5 600v5M410 602.5h5M412.5 600v5M412 599.5h5M414.5 597v5M412 600.5h5M414.5 598v5M412 602.5h5M414.5 600v5M421 604.5h5M423.5 602v5M423 598.5h5M425.5 596v5M425 602.5h5M427.5 600v5M428 603.5h5M430.5 601v5M429 601.5h5M431.5 599v5M433 601.5h5M435.5 599v5M436 600.5h5M438.5 598v5M443 600.5h5M445.5 598v5M447 600.5h5M449.5 598v5M448 601.5h5M450.5 599v5M458 600.5h5M460.5 598v5M459 602.5h5M461.5 600v5M465 600.5h5M467.5 598v5M466 599.5h5M468.5 597v5M467 599.5h5M469.5 597v5M475 598.5h5M477.5 596v5M476 598.5h5M478.5 596v5M480 602.5h5M482.5 600v5M490 600.5h5M492.5 598v5M490 597.5h5M492.5 595v5M491 598.5h5M493.5 596v5M493 597.5h5M495.5 595v5M494 599.5h5M496.5 597v5M496 597.5h5M498.5 595v5M500 598.5h5M502.5 596v5M481 596.5h5M483.5 594v5M488 600.5h5M490.5 598v5M498 600.5h5M500.5 598v5" stroke="#000" stroke-width="1" fill="none" clip-path="url(#c6)"/><line x1="299.6" y1="614.5" x2="505.5" y2="595.6" stroke="#000" stroke-width="1.6" clip-path="url(#c6)"/><rect x="290.4" y="564.5" width="224.9" height="55.3" fill="none" stroke="#222" stroke-width="1.25"/><line x1="326.3" y1="619.8" x2="326.3" y2="623.3" stroke="#222" stroke-width="1"/><line x1="368.9" y1="619.8" x2="368.9" y2="623.3" stroke="#222" stroke-width="1"/><line x1="411.4" y1="619.8" x2="411.4" y2="623.3" stroke="#222" stroke-width="1"/><line x1="454" y1="619.8" x2="454" y2="623.3" stroke="#222" stroke-width="1"/><line x1="496.6" y1="619.8" x2="496.6" y2="623.3" stroke="#222" stroke-width="1"/><line x1="286.9" y1="605.2" x2="290.4" y2="605.2" stroke="#222" stroke-width="1"/><line x1="286.9" y1="578" x2="290.4" y2="578" stroke="#222" stroke-width="1"/>
<text x="402.8" y="557.2" font-size="15.3" fill="#000" text-anchor="middle" textLength="48.5" lengthAdjust="spacingAndGlyphs" stroke="#000" stroke-width="0.2" >cycle 6</text>
<clipPath id="c7"><rect x="48.1" y="654.8" width="224.9" height="55.3"/></clipPath><path d="M74 702.3 L75.2 702.5 L76.5 702 L77.7 701.4 L78.9 701.7 L80.2 701.8 L81.4 701.1 L82.6 702.1 L83.8 701.5 L85.1 701.2 L86.3 700.6 L87.5 700.7 L88.8 700.7 L90 701 L91.2 700.3 L92.5 700.6 L93.8 700.2 L95 700.4 L96.2 700.4 L97.5 700.1 L98.8 700.3 L100 700 L101.2 699.2 L102.5 699.8 L103.8 699.4 L105 699.7 L106.2 699.8 L107.5 698.9 L108.8 699.4 L110 698.5 L111.2 698.8 L112.5 697.8 L113.8 698.7 L115 698 L116.2 697.8 L117.5 697.7 L118.8 697.4 L120 697 L121.2 697.4 L122.5 697.1 L123.8 696.2 L125 696.3 L126.2 697 L127.5 695.9 L128.8 695.7 L130 695.9 L131.2 695.4 L132.5 696 L133.8 695.8 L135 694.5 L136.2 694.4 L137.5 694.1 L138.8 694.2 L140 693.8 L141.2 694.1 L142.5 694.1 L143.8 692.9 L145 692.6 L146.2 692.5 L147.5 692.5 L148.8 692.1 L150 692.2 L151.2 691.9 L152.5 692.1 L153.8 692.2 L155 692 L156.2 691 L157.5 691 L158.8 690.1 L160 690.5 L161.2 690.6 L162.5 690.3 L163.8 689.1 L165 688.9 L166.2 689.8 L167.5 689.4 L168.8 689.4 L170 688.4 L171.2 689 L172.5 688.1 L173.8 688.9 L175 688.9 L176.2 688.2 L177.5 687.7 L178.8 688.5 L180 688.8 L181.2 688.2 L182.5 687.8 L183.8 687.6 L185 688.1 L186.2 688.2 L187.5 687.4 L188.8 687.1 L190 688 L191.2 687.2 L192.4 687.2 L193.6 687 L194.8 687.5 L196 687.8 L197.2 687 L198.4 687.5 L199.6 686.9 L200.8 686.9 L202 687.3 L203.2 687.5 L204.4 687.2 L205.6 687.1 L206.8 687.2 L208 687.3 L209.2 687.3 L210.4 686.7 L211.6 686.5 L212.8 685.9 L214 686.6 L215.2 686.3 L216.4 685.8 L217.6 687.1 L218.8 686.1 L220 686.9 L221.2 685.7 L222.5 686 L223.8 686.5 L225 686.4 L226.2 686.3 L227.5 686 L228.8 685.4 L230 686.4 L231.2 686.2 L232.5 685.8 L233.8 685.9 L235 686.1 L236.2 685.7 L237.5 685.6 L238.8 685.6 L240 685.8 L241.2 685.8 L242.5 685.2 L243.8 685.7 L245 685.2 L246.3 685.5 L247.5 685.1 L248.8 685.8 L250.1 685.8 L251.3 685.5 L252.6 685 L253.9 684.9 L255.2 685 L256.4 685.2 L257.7 684.4 L259 685 L260.2 685.5 L261.5 684.4 L262.8 685.4 L264 685 L265.3 684.8" fill="none" stroke="#000" stroke-width="1.3" stroke-linejoin="round" stroke-linecap="round" clip-path="url(#c7)"/><path d="M74 705.3 L75.2 704.8 L76.5 704.7 L77.7 704.7 L78.9 704.1 L80.2 703.6 L81.4 704.4 L82.6 704.4 L83.8 704 L85.1 703.3 L86.3 703.5 L87.5 703.4 L88.8 703.1 L90 703.2 L91.2 703 L92.5 703.5 L93.8 703 L95 703.3 L96.2 703.1 L97.5 702 L98.8 702.6 L100 702 L101.2 702.2 L102.5 702 L103.8 702.1 L105 701.4 L106.2 701.8 L107.5 701.3 L108.8 701.7 L110 701.2 L111.2 701.2 L112.5 701.4 L113.8 700.3 L115 699.8 L116.2 700.7 L117.5 700.1 L118.8 700 L120 700.1 L121.2 700 L122.5 699.1 L123.8 699.7 L125 698.8 L126.2 699 L127.5 699 L128.8 698.2 L130 698.1 L131.2 697.8 L132.5 697.5 L133.8 697.4 L135 697.7 L136.2 696.5 L137.5 697.5 L138.8 697 L140 696.5 L141.2 696.4 L142.5 695.7 L143.8 696.1 L145 696 L146.2 695.2 L147.5 695.1 L148.8 694.5 L150 694.3 L151.2 694.9 L152.5 694.4 L153.8 693.9 L155 693.9 L156.2 693 L157.5 692.5 L158.8 692.7 L160 692.8 L161.2 692 L162.5 692.2 L163.8 691.7 L165 691.4 L166.2 691.9 L167.5 691.3 L168.8 691.7 L170 691.6 L171.2 691 L172.5 690.5 L173.8 691.4 L175 690.9 L176.2 690.9 L177.5 690.9 L178.8 690.6 L180 691 L181.2 689.7 L182.5 690.9 L183.8 690.3 L185 689.9 L186.2 690.5 L187.5 690.4 L188.8 689.9 L190 689 L191.2 689.8 L192.4 689.5 L193.6 689.6 L194.8 689.9 L196 689 L197.2 689.9 L198.4 689.1 L199.6 689 L200.8 688.7 L202 688.8 L203.2 688.9 L204.4 689.2 L205.6 689.7 L206.8 688.7 L208 688.8 L209.2 688.9 L210.4 689.2 L211.6 688.8 L212.8 689.1 L214 688.4 L215.2 688.2 L216.4 688.9 L217.6 689 L218.8 688.2 L220 688.1 L221.2 688.8 L222.5 688 L223.8 689.1 L225 688.7 L226.2 688 L227.5 688.3 L228.8 687.7 L230 687.7 L231.2 688 L232.5 688.7 L233.8 688.7 L235 688.4 L236.2 688.2 L237.5 688.1 L238.8 687.9 L240 688.1 L241.2 687.8 L242.5 687.6 L243.8 688.2 L245 687.4 L246.3 687.5 L247.5 687.8 L248.8 688.2 L250.1 687.3 L251.3 687.4 L252.6 687.4 L253.9 687.1 L255.2 687.2 L256.4 687.8 L257.7 687 L259 687.3 L260.2 687 L261.5 687.4 L262.8 687.6 L264 686.7 L265.3 687.2" fill="none" stroke="#000" stroke-width="1.3" stroke-linejoin="round" stroke-linecap="round" clip-path="url(#c7)"/><path d="M73.3 701.6h1.4M74.2 701.7h1.4M74.5 702.3h1.4M75.9 705.1h1.4M76.2 701.4h1.4M77.5 700.6h1.4M77.3 705.2h1.4M78.4 700.2h1.4M79.1 704.8h1.4M80.1 701.4h1.4M80.7 700h1.4M81.6 702.7h1.4M81.5 703h1.4M82.3 700.1h1.4M83.4 704.4h1.4M84.8 704.8h1.4M85 703h1.4M86 703.6h1.4M86.1 702.3h1.4M87.2 699.2h1.4M87.8 700h1.4M88.6 703.6h1.4M89.4 704.6h1.4M89.7 699h1.4M90.8 701.6h1.4M90.9 702h1.4M91.7 698.9h1.4M92.5 703.1h1.4M93.4 698.9h1.4M93.8 702.4h1.4M95 703.9h1.4M96.2 703.8h1.4M96.4 701.4h1.4M97 699.7h1.4M97.6 700.2h1.4M98.8 700.7h1.4M99 703.8h1.4M100.6 699.5h1.4M100.8 699.5h1.4M101.4 703.8h1.4M102.7 703.4h1.4M103.1 702.1h1.4M103 701.7h1.4M103.9 698h1.4M104.5 702.6h1.4M106.3 701.8h1.4M106.1 699.8h1.4M107.6 702.7h1.4M107.3 701.2h1.4M108.8 702h1.4M109.5 702h1.4M109.6 700.8h1.4M111.3 698.4h1.4M111.4 702.4h1.4M112.6 701h1.4M113.4 701.9h1.4M113.6 696.5h1.4M114.5 696.9h1.4M114.8 698.4h1.4M116.1 700.6h1.4M116.5 702h1.4M117.3 696.2h1.4M117.3 696.3h1.4M118.2 700.2h1.4M118.9 701h1.4M120.2 701.4h1.4M120.7 700.3h1.4M121.7 695.6h1.4M122.4 697.2h1.4M122.4 697.8h1.4M123.1 698.7h1.4M123.9 698.5h1.4M125.2 695.7h1.4M126.1 698.3h1.4M126.2 699.8h1.4M127.2 696.9h1.4M127.6 696.9h1.4M129 698.7h1.4M129.3 698.6h1.4M130.4 700h1.4M130.1 694.5h1.4M130.9 699.1h1.4M132.7 695.9h1.4M132.9 694h1.4M133.3 697.8h1.4M134.4 694.2h1.4M135.3 694h1.4M135.6 699h1.4M136.6 693.3h1.4M136.7 697.3h1.4M137.5 693.4h1.4M138.5 695.8h1.4M139.5 693.7h1.4M140 693.7h1.4M140.1 697.9h1.4M141.6 697.3h1.4M141.6 694.6h1.4M142.8 694.2h1.4M142.8 694.7h1.4M143.5 691.6h1.4M144.6 693.7h1.4M145.2 695.4h1.4M146.3 691.8h1.4M146.4 695.1h1.4M147.6 696.8h1.4M147.8 696.8h1.4M148.3 692.5h1.4M149.7 691h1.4M150.2 693.9h1.4M150.6 692.6h1.4M151.4 694.4h1.4M151.7 689.9h1.4M152.5 694.7h1.4M153.3 689.6h1.4M154.4 689.7h1.4M155.5 693.9h1.4M155.6 691.7h1.4M156.2 691.2h1.4M156.8 691.5h1.4M157.9 689h1.4M158.7 690h1.4M159.4 690.7h1.4M159.5 691.7h1.4M160.6 692h1.4M161.2 688.3h1.4M162.3 692.5h1.4M162.7 692h1.4M164.1 688.5h1.4M164.5 693h1.4M165.4 688h1.4M165.5 691.6h1.4M166.1 688.9h1.4M167.4 692.8h1.4M167.3 692.1h1.4M168.8 690.1h1.4M168.7 688.4h1.4M170 692.4h1.4M170.8 693h1.4M171.9 687.7h1.4M171.9 689.1h1.4M172.6 687.8h1.4M173.7 687.1h1.4M173.8 688h1.4M174.9 689.6h1.4M175.2 690h1.4M176.2 688.6h1.4M177.6 691.2h1.4M177.4 688.5h1.4M178.5 688.7h1.4M178.7 690.2h1.4M179.5 688.7h1.4M180.4 689.4h1.4M181.5 688.4h1.4M182.7 690.3h1.4M182.7 688.8h1.4M184 688.1h1.4M183.9 689.2h1.4M185.5 688h1.4M185.8 687.8h1.4M187 689.9h1.4M187.2 689.4h1.4M188 689.5h1.4M188.9 688.7h1.4M189.9 690.2h1.4M190.4 689.7h1.4M191.3 691h1.4M191.4 688.4h1.4M192.1 690.3h1.4M192.6 689.1h1.4M193.7 690.8h1.4M193.8 685.3h1.4M195 687.9h1.4M195.2 687.2h1.4M196.5 686.5h1.4M197.3 691.3h1.4M197.4 686.9h1.4M198 690.1h1.4M199.6 690.1h1.4M199.4 688.7h1.4M200.9 688.8h1.4M201.8 688.3h1.4M202.2 687.9h1.4M202.3 687.5h1.4M203.1 688.1h1.4M204.3 686.9h1.4M204.6 688.6h1.4M206 685.5h1.4M206.7 690.3h1.4M207.4 687.3h1.4M207.8 687.7h1.4M208.2 690.3h1.4M209.8 685.6h1.4M209.7 687.4h1.4M211 689.3h1.4M211 684.9h1.4M211.7 689.1h1.4M213.4 689.7h1.4M214 687.7h1.4M213.8 688.9h1.4M215.2 687.7h1.4M216.2 686.8h1.4M217 687.2h1.4M217.1 686.9h1.4M217.6 690.5h1.4M218.3 689.6h1.4M219.6 686.1h1.4M220 685.9h1.4M221.3 690.1h1.4M221.5 690.3h1.4M222.4 685.9h1.4M222.3 686.7h1.4M223.4 685.4h1.4M224.8 688.2h1.4M224.7 689.2h1.4M225.7 689.6h1.4M226.4 690.2h1.4M227.2 688.1h1.4M228 686.7h1.4M228.7 688.5h1.4M229.5 686.4h1.4M230.3 687.2h1.4M231 684.3h1.4M230.9 689.3h1.4M232.7 689.2h1.4M232.7 686.5h1.4M233.5 688.3h1.4M234.6 687h1.4M235 687.4h1.4M236.3 689.9h1.4M236.5 684.3h1.4M237.7 685.2h1.4M237.6 688.1h1.4M238.7 688.4h1.4M239.1 687h1.4M239.6 684h1.4M240.9 686h1.4M241.7 685.8h1.4M241.7 687.3h1.4M242.6 687.6h1.4M243.6 689.2h1.4M244 687.9h1.4M244.9 687.7h1.4M245.9 684.7h1.4M246.9 686h1.4M247.7 685.5h1.4M247.5 687.9h1.4M248.4 687.7h1.4M249.2 684.6h1.4M250.4 685.6h1.4M250.2 685.8h1.4M251.7 688.3h1.4M251.7 683.5h1.4M252.8 685.5h1.4M253.1 686.9h1.4M253.7 688h1.4M254.7 684.4h1.4M255.3 686.6h1.4M255.9 684.1h1.4M256.8 684h1.4M257.2 684.5h1.4M258.8 687.4h1.4M258.9 685.7h1.4M260.1 684.8h1.4M260.8 688.7h1.4M260.8 683.1h1.4M261.9 684.3h1.4M262.7 684h1.4M263.6 685.5h1.4M263.7 683.6h1.4" stroke="#000" stroke-width="1.3" fill="none" clip-path="url(#c7)"/><path d="M87 703.5h5M89.5 701v5M88 703.5h5M90.5 701v5M90 702.5h5M92.5 700v5M94 702.5h5M96.5 700v5M95 703.5h5M97.5 701v5M97 703.5h5M99.5 701v5M99 703.5h5M101.5 701v5M103 701.5h5M105.5 699v5M108 699.5h5M110.5 697v5M120 697.5h5M122.5 695v5M121 698.5h5M123.5 696v5M125 701.5h5M127.5 699v5M125 698.5h5M127.5 696v5M125 695.5h5M127.5 693v5M126 698.5h5M128.5 696v5M129 697.5h5M131.5 695v5M134 693.5h5M136.5 691v5M141 695.5h5M143.5 693v5M143 695.5h5M145.5 693v5M152 692.5h5M154.5 690v5M158 694.5h5M160.5 692v5M160 692.5h5M162.5 690v5M169 689.5h5M171.5 687v5M186 688.5h5M188.5 686v5M190 689.5h5M192.5 687v5M190 686.5h5M192.5 684v5M193 691.5h5M195.5 689v5M195 688.5h5M197.5 686v5M201 689.5h5M203.5 687v5M203 685.5h5M205.5 683v5M205 686.5h5M207.5 684v5M208 689.5h5M210.5 687v5M215 687.5h5M217.5 685v5M215 684.5h5M217.5 682v5M218 684.5h5M220.5 682v5M222 688.5h5M224.5 686v5M227 686.5h5M229.5 684v5M229 687.5h5M231.5 685v5M237 685.5h5M239.5 683v5M242 686.5h5M244.5 684v5M245 685.5h5M247.5 683v5M246 686.5h5M248.5 684v5M248 685.5h5M250.5 683v5M250 687.5h5M252.5 685v5M253 686.5h5M255.5 684v5M253 684.5h5M255.5 682v5M256 686.5h5M258.5 684v5M257 685.5h5M259.5 683v5M258 686.5h5M260.5 684v5M262 684.5h5M264.5 682v5M163 690.5h5M165.5 688v5M178 686.5h5M180.5 684v5M173 682.5h5M175.5 680v5M188 690.5h5M190.5 688v5M198 686.5h5M200.5 684v5M258 686.5h5M260.5 684v5" stroke="#000" stroke-width="1" fill="none" clip-path="url(#c7)"/><line x1="57.8" y1="702.2" x2="262.9" y2="681.6" stroke="#000" stroke-width="1.6" clip-path="url(#c7)"/><rect x="48.1" y="654.8" width="224.9" height="55.3" fill="none" stroke="#222" stroke-width="1.25"/><line x1="84" y1="710.1" x2="84" y2="713.6" stroke="#222" stroke-width="1"/><line x1="126.6" y1="710.1" x2="126.6" y2="713.6" stroke="#222" stroke-width="1"/><line x1="169.2" y1="710.1" x2="169.2" y2="713.6" stroke="#222" stroke-width="1"/><line x1="211.7" y1="710.1" x2="211.7" y2="713.6" stroke="#222" stroke-width="1"/><line x1="254.3" y1="710.1" x2="254.3" y2="713.6" stroke="#222" stroke-width="1"/><line x1="44.6" y1="695.5" x2="48.1" y2="695.5" stroke="#222" stroke-width="1"/><line x1="44.6" y1="668.3" x2="48.1" y2="668.3" stroke="#222" stroke-width="1"/>
<text x="160.6" y="647.5" font-size="15.3" fill="#000" text-anchor="middle" textLength="48.5" lengthAdjust="spacingAndGlyphs" stroke="#000" stroke-width="0.2" >cycle 7</text>
<text x="39.3" y="699.8" font-size="12" fill="#000" text-anchor="end" textLength="21.5" lengthAdjust="spacingAndGlyphs" stroke="#000" stroke-width="0.2" >100</text>
<text x="39.3" y="672.6" font-size="12" fill="#000" text-anchor="end" textLength="21.5" lengthAdjust="spacingAndGlyphs" stroke="#000" stroke-width="0.2" >200</text>
<text x="10.2" y="682.5" font-size="12" fill="#000" text-anchor="middle" textLength="81" lengthAdjust="spacingAndGlyphs" transform="rotate(-90 10.2 682.5)" stroke="#000" stroke-width="0.2" >resistance [Ω]</text>
<text x="84" y="726.7" font-size="12" fill="#000" text-anchor="middle" textLength="13.3" lengthAdjust="spacingAndGlyphs" stroke="#000" stroke-width="0.2" >15</text>
<text x="126.6" y="726.7" font-size="12" fill="#000" text-anchor="middle" textLength="13.3" lengthAdjust="spacingAndGlyphs" stroke="#000" stroke-width="0.2" >20</text>
<text x="169.2" y="726.7" font-size="12" fill="#000" text-anchor="middle" textLength="13.3" lengthAdjust="spacingAndGlyphs" stroke="#000" stroke-width="0.2" >25</text>
<text x="211.7" y="726.7" font-size="12" fill="#000" text-anchor="middle" textLength="13.3" lengthAdjust="spacingAndGlyphs" stroke="#000" stroke-width="0.2" >30</text>
<text x="254.3" y="726.7" font-size="12" fill="#000" text-anchor="middle" textLength="13.3" lengthAdjust="spacingAndGlyphs" stroke="#000" stroke-width="0.2" >35</text>
<text x="160.6" y="742.5" font-size="12" fill="#000" text-anchor="middle" textLength="101" lengthAdjust="spacingAndGlyphs" stroke="#000" stroke-width="0.2" >pressure [mmHg]</text>
<clipPath id="c8"><rect x="290.4" y="654.8" width="224.9" height="55.3"/></clipPath><path d="M314.7 705.7 L314.9 703.9 L315 702.5 L315.2 701.8 L315.3 700.7 L315.5 698.4 L316.7 698.8 L317.9 698.2 L319.1 698.6 L320.3 698.8 L321.5 698.4 L322.8 698.8 L324 698.7 L325.2 698 L326.4 698.1 L327.6 698.5 L328.8 698.1 L330 698.7 L331.2 698.6 L332.5 698.5 L333.8 698.8 L335 698.2 L336.2 698.3 L337.5 697.1 L338.8 698.1 L340 698 L341.2 697.4 L342.5 697.6 L343.8 697 L345 696.7 L346.2 696.1 L347.5 696.4 L348.8 696.6 L350 696.6 L351.2 696.6 L352.5 695.9 L353.8 696.3 L355 695.3 L356.2 694.6 L357.5 695.1 L358.8 695.1 L360 695.3 L361.2 694.3 L362.5 693.9 L363.8 694.8 L365 693.8 L366.2 694.6 L367.5 694.1 L368.8 693.3 L370 693.7 L371.2 694 L372.5 693 L373.8 694.1 L375 692.6 L376.2 692.7 L377.5 693.2 L378.8 693.3 L380 693.1 L381.2 693.4 L382.5 692.3 L383.8 691.9 L385 692.6 L386.2 692.2 L387.5 692.2 L388.8 692.1 L390 692.7 L391.2 691.8 L392.4 692.4 L393.6 692.2 L394.8 691.7 L396 692.6 L397.2 691.6 L398.4 691.6 L399.6 691.4 L400.8 692.2 L402 692.1 L403.2 691.6 L404.4 691.2 L405.6 691.9 L406.8 691.4 L408 691.7 L409.2 691.8 L410.4 690.7 L411.7 690.6 L412.9 691.7 L414.1 691.6 L415.3 690.4 L416.6 690.5 L417.8 690.7 L419 691.1 L420.2 690.3 L421.4 691.1 L422.7 689.7 L423.9 690.8 L425.1 689.4 L426.3 690.1 L427.6 690.6 L428.8 690.1 L430 690.3 L431.2 689.3 L432.5 690.1 L433.8 689.9 L435 688.8 L436.2 689.4 L437.5 689.5 L438.8 688.3 L440 688.5 L441.2 688.9 L442.5 688.5 L443.8 688.9 L445 688.1 L446.2 687.9 L447.5 687.4 L448.8 687.4 L450 688.2 L451.2 687.3 L452.5 688.2 L453.8 688 L455 687.6 L456.2 687.2 L457.5 686.7 L458.8 686.9 L460 687.9 L461.2 688.1 L462.5 688 L463.8 687 L465 687.9 L466.2 687.2 L467.5 687 L468.8 687.8 L470 687.6 L471.2 687.4 L472.4 686.8 L473.6 686.5 L474.8 686.6 L476 686.8 L477.2 686.6 L478.5 687.2 L479.7 686.8 L480.9 686.6 L482.1 687.6 L483.3 686.9 L484.5 686.3 L485.7 686.3 L486.9 687.1 L488.1 686.3 L489.3 687.1 L490.5 686.3 L491.8 687 L493 687.2 L494.2 687 L495.4 686.5 L496.6 687.5 L497.8 687.7 L499 686.9" fill="none" stroke="#000" stroke-width="1.5" stroke-linejoin="round" stroke-linecap="round" clip-path="url(#c8)"/><path d="M314.7 708.8 L314.9 707.6 L315 706.3 L315.2 704 L315.3 702.8 L315.5 701.2 L316.7 701.8 L317.9 700.9 L319.1 700.9 L320.3 701.3 L321.5 701.4 L322.8 702.1 L324 701.1 L325.2 700.6 L326.4 701.2 L327.6 701.9 L328.8 700.7 L330 701.4 L331.2 701.3 L332.5 701.5 L333.8 700.6 L335 700.9 L336.2 701.2 L337.5 701.1 L338.8 700.4 L340 699.9 L341.2 700.2 L342.5 700.1 L343.8 699.9 L345 699.7 L346.2 699.1 L347.5 699.5 L348.8 698.8 L350 698.4 L351.2 698.1 L352.5 698.6 L353.8 697.9 L355 697.9 L356.2 697.8 L357.5 697.7 L358.8 697.6 L360 698.3 L361.2 697.5 L362.5 697.4 L363.8 697 L365 697 L366.2 697.3 L367.5 696.7 L368.8 696.5 L370 696.1 L371.2 695.8 L372.5 695.7 L373.8 695.5 L375 695.7 L376.2 695.2 L377.5 695.7 L378.8 695.8 L380 695 L381.2 695.9 L382.5 695.3 L383.8 695.5 L385 695.1 L386.2 695.6 L387.5 695.3 L388.8 694.4 L390 694.9 L391.2 694.5 L392.4 695.2 L393.6 694.6 L394.8 694.3 L396 694 L397.2 695.4 L398.4 694 L399.6 694.2 L400.8 695.2 L402 693.8 L403.2 694.3 L404.4 694.3 L405.6 694.7 L406.8 694.8 L408 695.1 L409.2 694 L410.4 693.5 L411.7 693.6 L412.9 693.2 L414.1 693.4 L415.3 693.9 L416.6 694.2 L417.8 692.9 L419 693 L420.2 693.8 L421.4 693.3 L422.7 692.9 L423.9 692.3 L425.1 692.1 L426.3 692.3 L427.6 692.7 L428.8 691.8 L430 692.4 L431.2 692.7 L432.5 691.4 L433.8 691.7 L435 691.7 L436.2 691.9 L437.5 692 L438.8 691.7 L440 691.3 L441.2 691 L442.5 691.3 L443.8 690.9 L445 691.5 L446.2 690.8 L447.5 690.7 L448.8 690.7 L450 690.3 L451.2 690.3 L452.5 690.5 L453.8 690.4 L455 691 L456.2 689.9 L457.5 690.2 L458.8 690.8 L460 690.6 L461.2 690.1 L462.5 689.7 L463.8 689.5 L465 689.8 L466.2 689.8 L467.5 689.8 L468.8 689.5 L470 689.8 L471.2 690 L472.4 689.2 L473.6 690.1 L474.8 690.1 L476 689.4 L477.2 689.4 L478.5 689.1 L479.7 689.7 L480.9 690 L482.1 689.6 L483.3 689.9 L484.5 689.9 L485.7 689.1 L486.9 689.1 L488.1 689.7 L489.3 690.4 L490.5 690 L491.8 689.6 L493 689.3 L494.2 689.1 L495.4 689.9 L496.6 690.1 L497.8 689.5 L499 689.6" fill="none" stroke="#000" stroke-width="1.5" stroke-linejoin="round" stroke-linecap="round" clip-path="url(#c8)"/><path d="M313.5 705.4h1.4M314.4 705.6h1.4M314 702.2h1.4M314.7 706.4h1.4M313.8 707.2h1.4M314.1 700.1h1.4M315 704.4h1.4M315 703.3h1.4M314.7 700.8h1.4M314.2 703.3h1.4M314.6 699.8h1.4M315.1 700.9h1.4M316.7 702.2h1.4M316.8 700.1h1.4M317.5 703.3h1.4M319 702.9h1.4M319.3 702.9h1.4M320.4 702.1h1.4M320.4 701.4h1.4M321.8 703.6h1.4M322.1 701.8h1.4M322.7 700.1h1.4M323.3 699h1.4M323.9 698.1h1.4M325.3 703.1h1.4M325.3 699.9h1.4M326.8 698h1.4M327.2 696.5h1.4M328.1 701.2h1.4M328.7 700.2h1.4M328.8 701.7h1.4M329.9 701.9h1.4M331 702h1.4M330.9 702.9h1.4M332.5 701.3h1.4M332.7 698.7h1.4M334 700.5h1.4M334.6 697.1h1.4M335.1 701.2h1.4M336.3 700.6h1.4M336.6 699.6h1.4M336.9 701.2h1.4M338.4 700.3h1.4M338.5 700.3h1.4M339.8 700.5h1.4M339.7 695.4h1.4M340.6 697.8h1.4M341.9 696.9h1.4M342.5 699.5h1.4M342.6 699.6h1.4M344.1 698.3h1.4M344.8 699h1.4M345.2 695.5h1.4M345.4 697.7h1.4M346.8 698.6h1.4M347 695.7h1.4M348.1 696.3h1.4M348.5 701.1h1.4M349.2 700.9h1.4M350 696.7h1.4M350.3 697.1h1.4M351 697.1h1.4M352.5 696.5h1.4M352.4 695h1.4M354 694.4h1.4M354.8 695.9h1.4M355.2 695.6h1.4M356 696.6h1.4M356.5 693.8h1.4M356.9 694.1h1.4M358.1 696.6h1.4M358.8 695.8h1.4M359 692.7h1.4M360.2 695.3h1.4M360.5 694.2h1.4M361.9 694.4h1.4M362.1 693.2h1.4M362.9 699.3h1.4M364.1 694h1.4M363.8 697h1.4M365.5 695.6h1.4M366.3 697.5h1.4M366.7 694.5h1.4M366.9 693.3h1.4M367.6 692.9h1.4M368.4 695.5h1.4M369.5 692.5h1.4M370.5 697.4h1.4M371.1 695.9h1.4M371.7 695.2h1.4M372.5 697.2h1.4M372.7 697.7h1.4M373.5 691.6h1.4M374.6 692.6h1.4M375.3 694.8h1.4M376.3 692.9h1.4M376.4 697.2h1.4M377 695.6h1.4M377.4 691.1h1.4M378.2 691.1h1.4M379 694.8h1.4M379.8 694.3h1.4M380.8 691.3h1.4M380.8 697.1h1.4M382.2 691.8h1.4M382.6 695h1.4M384 697.3h1.4M384.4 692.8h1.4M385 697.2h1.4M385.4 695.3h1.4M386.2 693.3h1.4M387.6 690.7h1.4M388.1 690.3h1.4M388.2 696.9h1.4M389.4 694.2h1.4M390.3 694.8h1.4M390.8 690.2h1.4M391 693.9h1.4M391.8 696.7h1.4M393.2 694.2h1.4M394.1 690.2h1.4M394 694.1h1.4M395.6 691.4h1.4M396.3 694.9h1.4M396.3 695h1.4M396.7 696.3h1.4M397.4 690.8h1.4M399 691.7h1.4M399.5 691.4h1.4M400 690.6h1.4M401.1 691.3h1.4M401.8 692.2h1.4M402.3 696.4h1.4M403 696.6h1.4M403.1 694.1h1.4M405 696.4h1.4M405.6 694.4h1.4M405.6 696.5h1.4M406.2 692.9h1.4M407.4 696.5h1.4M408.5 690.3h1.4M408.8 695.6h1.4M409.4 695.1h1.4M410 695.2h1.4M410.8 689.2h1.4M411.5 690.7h1.4M411.8 695h1.4M413.5 693.7h1.4M414.3 688.8h1.4M414 690h1.4M415.2 689.2h1.4M415.7 689.9h1.4M416.1 691.1h1.4M416.7 692.1h1.4M418.1 689.4h1.4M418.2 689.4h1.4M419 690.3h1.4M420.4 691.5h1.4M420.6 694.1h1.4M421 693.2h1.4M421.8 691.5h1.4M423.2 690.3h1.4M423.8 693.4h1.4M424.9 694.7h1.4M425.4 688.8h1.4M426 691.9h1.4M426.8 690h1.4M426.7 691.2h1.4M427.8 692.2h1.4M428.7 687.9h1.4M429.5 693.9h1.4M430.2 693.7h1.4M430.9 687.5h1.4M431.1 690.4h1.4M432.5 688.1h1.4M432.5 692.4h1.4M434.1 689.9h1.4M433.9 693.2h1.4M434.7 694h1.4M435.6 693h1.4M436.9 691.9h1.4M437.2 691.8h1.4M438.4 687.8h1.4M438.9 689.7h1.4M439 689.2h1.4M440.6 688.1h1.4M440.9 692.9h1.4M441.6 692.6h1.4M442.4 692.2h1.4M442.9 687.4h1.4M444.2 692.8h1.4M444 692h1.4M445.6 686.7h1.4M445.5 691.2h1.4M446.2 692.6h1.4M447.4 685.8h1.4M448 692.1h1.4M448.1 690.8h1.4M448.9 691.8h1.4M449.8 685.9h1.4M450.2 687.1h1.4M452 687.4h1.4M452.4 690h1.4M452.4 691.3h1.4M453.6 686.6h1.4M454.9 687.6h1.4M455 685.5h1.4M456.1 687.5h1.4M456.1 692.1h1.4M456.6 692.3h1.4M457.5 691.6h1.4M458.7 685.4h1.4M459.7 685.2h1.4M460.1 686.1h1.4M460.7 690.7h1.4M462 686.5h1.4M462.5 687.5h1.4M462.7 689.6h1.4M463.9 687.1h1.4M464.6 691h1.4M465.2 690.2h1.4M465.4 688.6h1.4M466.6 686.8h1.4M466.8 688.1h1.4M467.5 689.7h1.4M468 685.7h1.4M469.7 689.8h1.4M470.2 690.5h1.4M470.8 688.7h1.4M471.3 687h1.4M472.5 686.8h1.4M473.2 686.3h1.4M473.2 685.3h1.4M473.9 684.9h1.4M475.4 691.1h1.4M475.5 689.9h1.4M476.2 685.9h1.4M477.6 685.1h1.4M477.8 686.8h1.4M478.5 686.7h1.4M479.2 690.7h1.4M479.7 691.5h1.4M481.2 687h1.4M481.3 690.9h1.4M482.1 688.5h1.4M482.6 685.8h1.4M483 691.8h1.4M484.5 688.1h1.4M484.5 691.2h1.4M485.5 690.1h1.4M486.9 688.2h1.4M487.4 687.8h1.4M487.7 687h1.4M488.7 687.3h1.4M488.9 685.6h1.4M490.1 689.8h1.4M490.1 688.4h1.4M491.6 689h1.4M491.5 685.1h1.4M492.1 686.6h1.4M493.6 689.8h1.4M494.6 686.7h1.4M494.3 687.1h1.4M494.9 691.3h1.4M496.5 686.2h1.4M496.4 688.6h1.4M497.7 689.9h1.4" stroke="#000" stroke-width="1.3" fill="none" clip-path="url(#c8)"/><path d="M312 703.5h5M314.5 701v5M312 703.5h5M314.5 701v5M318 700.5h5M320.5 698v5M321 700.5h5M323.5 698v5M330 702.5h5M332.5 700v5M339 700.5h5M341.5 698v5M344 694.5h5M346.5 692v5M346 698.5h5M348.5 696v5M350 695.5h5M352.5 693v5M362 698.5h5M364.5 696v5M363 696.5h5M365.5 694v5M369 695.5h5M371.5 693v5M372 696.5h5M374.5 694v5M373 695.5h5M375.5 693v5M375 692.5h5M377.5 690v5M376 696.5h5M378.5 694v5M384 692.5h5M386.5 690v5M384 695.5h5M386.5 693v5M388 693.5h5M390.5 691v5M388 690.5h5M390.5 688v5M395 693.5h5M397.5 691v5M400 696.5h5M402.5 694v5M401 694.5h5M403.5 692v5M404 694.5h5M406.5 692v5M405 690.5h5M407.5 688v5M411 692.5h5M413.5 690v5M414 690.5h5M416.5 688v5M417 693.5h5M419.5 691v5M418 693.5h5M420.5 691v5M420 693.5h5M422.5 691v5M421 693.5h5M423.5 691v5M425 690.5h5M427.5 688v5M429 691.5h5M431.5 689v5M432 689.5h5M434.5 687v5M432 690.5h5M434.5 688v5M441 689.5h5M443.5 687v5M443 690.5h5M445.5 688v5M444 690.5h5M446.5 688v5M448 688.5h5M450.5 686v5M451 687.5h5M453.5 685v5M455 690.5h5M457.5 688v5M457 685.5h5M459.5 683v5M462 689.5h5M464.5 687v5M464 691.5h5M466.5 689v5M468 689.5h5M470.5 687v5M473 688.5h5M475.5 686v5M472 689.5h5M474.5 687v5M475 687.5h5M477.5 685v5M477 688.5h5M479.5 686v5M481 687.5h5M483.5 685v5M494 686.5h5M496.5 684v5M453 686.5h5M455.5 684v5M478 689.5h5M480.5 687v5M488 689.5h5M490.5 687v5M497 688.5h5M499.5 686v5" stroke="#000" stroke-width="1" fill="none" clip-path="url(#c8)"/><line x1="299.6" y1="702.2" x2="505.6" y2="682.5" stroke="#000" stroke-width="1.6" clip-path="url(#c8)"/><rect x="290.4" y="654.8" width="224.9" height="55.3" fill="none" stroke="#222" stroke-width="1.25"/><line x1="326.3" y1="710.1" x2="326.3" y2="713.6" stroke="#222" stroke-width="1"/><line x1="368.9" y1="710.1" x2="368.9" y2="713.6" stroke="#222" stroke-width="1"/><line x1="411.4" y1="710.1" x2="411.4" y2="713.6" stroke="#222" stroke-width="1"/><line x1="454" y1="710.1" x2="454" y2="713.6" stroke="#222" stroke-width="1"/><line x1="496.6" y1="710.1" x2="496.6" y2="713.6" stroke="#222" stroke-width="1"/><line x1="286.9" y1="695.5" x2="290.4" y2="695.5" stroke="#222" stroke-width="1"/><line x1="286.9" y1="668.3" x2="290.4" y2="668.3" stroke="#222" stroke-width="1"/>
<text x="402.8" y="647.5" font-size="15.3" fill="#000" text-anchor="middle" textLength="48.5" lengthAdjust="spacingAndGlyphs" stroke="#000" stroke-width="0.2" >cycle 8</text>
<text x="326.3" y="726.7" font-size="12" fill="#000" text-anchor="middle" textLength="13.3" lengthAdjust="spacingAndGlyphs" stroke="#000" stroke-width="0.2" >15</text>
<text x="368.9" y="726.7" font-size="12" fill="#000" text-anchor="middle" textLength="13.3" lengthAdjust="spacingAndGlyphs" stroke="#000" stroke-width="0.2" >20</text>
<text x="411.4" y="726.7" font-size="12" fill="#000" text-anchor="middle" textLength="13.3" lengthAdjust="spacingAndGlyphs" stroke="#000" stroke-width="0.2" >25</text>
<text x="454" y="726.7" font-size="12" fill="#000" text-anchor="middle" textLength="13.3" lengthAdjust="spacingAndGlyphs" stroke="#000" stroke-width="0.2" >30</text>
<text x="496.6" y="726.7" font-size="12" fill="#000" text-anchor="middle" textLength="13.3" lengthAdjust="spacingAndGlyphs" stroke="#000" stroke-width="0.2" >35</text>
<text x="402.8" y="742.5" font-size="12" fill="#000" text-anchor="middle" textLength="101" lengthAdjust="spacingAndGlyphs" stroke="#000" stroke-width="0.2" >pressure [mmHg]</text>
<rect x="58" y="767.5" width="437" height="20.8" rx="2" ry="2" fill="#fff" stroke="#cccccc" stroke-width="1"/>
<line x1="62" y1="777.2" x2="87.2" y2="777.2" stroke="#000" stroke-width="1.6"/>
<path d="M177.2 777.3h4.4M179.4 775.1v4.4" stroke="#000" stroke-width="1.2"/>
<path d="M349.6 777.3h1.4" stroke="#000" stroke-width="1.4"/>
<text x="95.8" y="781.3" font-size="12" fill="#000" text-anchor="start" textLength="48.3" lengthAdjust="spacingAndGlyphs" stroke="#000" stroke-width="0.2" >linear fit</text>
<text x="200.6" y="781.3" font-size="12" fill="#000" text-anchor="start" textLength="115" lengthAdjust="spacingAndGlyphs" stroke="#000" stroke-width="0.2" >pressure increasing</text>
<text x="372.3" y="781.3" font-size="12" fill="#000" text-anchor="start" textLength="116.8" lengthAdjust="spacingAndGlyphs" stroke="#000" stroke-width="0.2" >pressure decreasing</text>
<text x="264.8" y="823.2" font-size="12" fill="#000" text-anchor="middle" textLength="13.8" lengthAdjust="spacingAndGlyphs" stroke="#000" stroke-width="0.2" >(b)</text></svg>
</body></html>
